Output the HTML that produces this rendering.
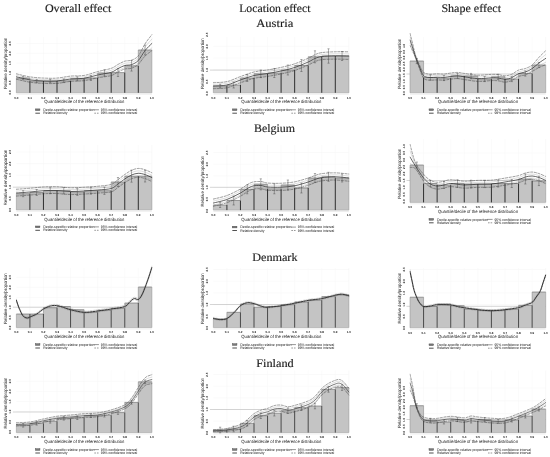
<!DOCTYPE html>
<html><head><meta charset="utf-8"><title>Relative distribution</title>
<style>html,body{margin:0;padding:0;background:#fff}svg{display:block}text{font-family:"Liberation Sans",sans-serif;fill:#141414;text-rendering:geometricPrecision;opacity:.999}.h{font-family:"Liberation Serif",serif;fill:#1c1c1c;stroke:#1c1c1c;stroke-width:.15px}</style></head><body>
<svg width="550" height="457" viewBox="0 0 550 457">
<rect width="550" height="457" fill="#fff"/>
<g opacity="0.999">
<text class="h" x="44.9" y="11.8" font-size="11.5" textLength="66.4" lengthAdjust="spacingAndGlyphs">Overall effect</text>
<text class="h" x="239.2" y="11.8" font-size="11.5" textLength="71.3" lengthAdjust="spacingAndGlyphs">Location effect</text>
<text class="h" x="441.4" y="11.8" font-size="11.5" textLength="59.6" lengthAdjust="spacingAndGlyphs">Shape effect</text>
<text class="h" x="256.3" y="26.9" font-size="11.5" textLength="36.9" lengthAdjust="spacingAndGlyphs">Austria</text>
<text class="h" x="254.1" y="131.6" font-size="11.5" textLength="40.9" lengthAdjust="spacingAndGlyphs">Belgium</text>
<text class="h" x="252.2" y="261.2" font-size="11.5" textLength="45.3" lengthAdjust="spacingAndGlyphs">Denmark</text>
<text class="h" x="256.3" y="366.5" font-size="11.5" textLength="37.4" lengthAdjust="spacingAndGlyphs">Finland</text>
<g>
<line x1="151.85" y1="37.00" x2="151.85" y2="92.80" stroke="#f2f2f2" stroke-width="0.5"/>
<line x1="16.35" y1="82.70" x2="151.85" y2="82.70" stroke="#f5f5f5" stroke-width="0.5"/>
<line x1="16.35" y1="72.90" x2="151.85" y2="72.90" stroke="#f5f5f5" stroke-width="0.5"/>
<line x1="16.35" y1="63.10" x2="151.85" y2="63.10" stroke="#f5f5f5" stroke-width="0.5"/>
<line x1="16.35" y1="53.30" x2="151.85" y2="53.30" stroke="#f5f5f5" stroke-width="0.5"/>
<line x1="16.35" y1="43.50" x2="151.85" y2="43.50" stroke="#f5f5f5" stroke-width="0.5"/>
<line x1="29.90" y1="37.00" x2="29.90" y2="92.80" stroke="#f7f7f7" stroke-width="0.5"/>
<line x1="43.45" y1="37.00" x2="43.45" y2="92.80" stroke="#f7f7f7" stroke-width="0.5"/>
<line x1="57.00" y1="37.00" x2="57.00" y2="92.80" stroke="#f7f7f7" stroke-width="0.5"/>
<line x1="70.55" y1="37.00" x2="70.55" y2="92.80" stroke="#f7f7f7" stroke-width="0.5"/>
<line x1="84.10" y1="37.00" x2="84.10" y2="92.80" stroke="#f7f7f7" stroke-width="0.5"/>
<line x1="97.65" y1="37.00" x2="97.65" y2="92.80" stroke="#f7f7f7" stroke-width="0.5"/>
<line x1="111.20" y1="37.00" x2="111.20" y2="92.80" stroke="#f7f7f7" stroke-width="0.5"/>
<line x1="124.75" y1="37.00" x2="124.75" y2="92.80" stroke="#f7f7f7" stroke-width="0.5"/>
<line x1="138.30" y1="37.00" x2="138.30" y2="92.80" stroke="#f7f7f7" stroke-width="0.5"/>
<rect x="16.35" y="78.00" width="13.55" height="14.80" fill="#c4c4c4"/>
<rect x="29.90" y="81.00" width="13.55" height="11.80" fill="#c4c4c4"/>
<rect x="43.45" y="81.00" width="13.55" height="11.80" fill="#c4c4c4"/>
<rect x="57.00" y="80.80" width="13.55" height="12.00" fill="#c4c4c4"/>
<rect x="70.55" y="78.80" width="13.55" height="14.00" fill="#c4c4c4"/>
<rect x="84.10" y="78.00" width="13.55" height="14.80" fill="#c4c4c4"/>
<rect x="97.65" y="73.00" width="13.55" height="19.80" fill="#c4c4c4"/>
<rect x="111.20" y="72.60" width="13.55" height="20.20" fill="#c4c4c4"/>
<rect x="124.75" y="65.80" width="13.55" height="27.00" fill="#c4c4c4"/>
<rect x="138.30" y="50.00" width="13.55" height="42.80" fill="#c4c4c4"/>
<path d="M16.35 78.00H29.90M29.90 81.00H43.45M43.45 81.00H57.00M57.00 80.80H70.55M70.55 78.80H84.10M84.10 78.00H97.65M97.65 73.00H111.20M111.20 72.60H124.75M124.75 65.80H138.30M138.30 50.00H151.85" stroke="#666" stroke-width="0.6" fill="none"/>
<path d="M16.35 78.00V92.80M151.85 50.00V92.80" stroke="#8e8e8e" stroke-width="0.5" fill="none"/>
<line x1="16.35" y1="92.80" x2="151.85" y2="92.80" stroke="#9a9a9a" stroke-width="0.5"/>
<line x1="16.35" y1="94.20" x2="151.85" y2="94.20" stroke="#e2e2e2" stroke-width="0.6"/>
<path d="M29.90 81.00V92.80M43.45 81.00V92.80M57.00 81.00V92.80M70.55 80.80V92.80M84.10 78.80V92.80M97.65 78.00V92.80M111.20 73.00V92.80M124.75 72.60V92.80M138.30 65.80V92.80" stroke="#2e2e2e" stroke-width="1.00" fill="none"/>
<path d="M29.90 78.00V81.00M70.55 78.80V80.80M84.10 78.00V78.80M97.65 73.00V78.00M111.20 72.60V73.00M124.75 65.80V72.60M138.30 50.00V65.80" stroke="#858585" stroke-width="0.55" fill="none"/>
<clipPath id="cp0_92"><rect x="15.85" y="33.00" width="137.00" height="59.80"/></clipPath>
<g clip-path="url(#cp0_92)" fill="none" stroke-linecap="round">
<path d="M16.35 73.83 C18.61 74.33 25.38 76.14 29.90 76.85 C34.42 77.56 38.93 77.87 43.45 78.07 C47.97 78.28 52.48 78.42 57.00 78.10 C61.52 77.77 66.03 76.56 70.55 76.12 C75.07 75.68 79.58 76.19 84.10 75.44 C88.62 74.69 93.13 72.77 97.65 71.59 C102.17 70.41 107.81 69.53 111.20 68.34 C114.59 67.15 115.72 65.66 117.97 64.47 C120.23 63.29 122.49 61.93 124.75 61.21 C127.01 60.49 129.27 61.03 131.53 60.14 C133.78 59.26 136.04 58.61 138.30 55.88 C140.56 53.15 142.82 47.32 145.07 43.79 C147.33 40.26 150.72 36.22 151.85 34.70" stroke="#3d3d3d" stroke-width="0.5" stroke-dasharray="2.2 1.5"/>
<path d="M16.35 79.23 C18.61 79.73 25.38 81.52 29.90 82.21 C34.42 82.91 38.93 83.20 43.45 83.39 C47.97 83.59 52.48 83.72 57.00 83.38 C61.52 83.04 66.03 81.81 70.55 81.36 C75.07 80.90 79.58 81.23 84.10 80.64 C88.62 80.05 93.13 78.64 97.65 77.79 C102.17 76.94 107.81 76.51 111.20 75.54 C114.59 74.57 115.72 73.06 117.97 71.97 C120.23 70.89 122.49 69.63 124.75 69.01 C127.01 68.39 129.27 69.03 131.53 68.24 C133.78 67.46 136.04 66.32 138.30 64.28 C140.56 62.24 142.82 58.25 145.07 55.99 C147.33 53.73 150.72 51.58 151.85 50.70" stroke="#3d3d3d" stroke-width="0.5" stroke-dasharray="2.2 1.5"/>
<path d="M16.35 75.31 C18.61 75.82 25.38 77.62 29.90 78.33 C34.42 79.03 38.93 79.33 43.45 79.54 C47.97 79.74 52.48 79.88 57.00 79.55 C61.52 79.22 66.03 78.01 70.55 77.56 C75.07 77.11 79.58 77.58 84.10 76.87 C88.62 76.16 93.13 74.39 97.65 73.30 C102.17 72.20 107.81 71.45 111.20 70.32 C114.59 69.19 115.72 67.70 117.97 66.54 C120.23 65.38 122.49 64.05 124.75 63.35 C127.01 62.66 129.27 63.23 131.53 62.37 C133.78 61.51 136.04 60.73 138.30 58.19 C140.56 55.65 142.82 50.33 145.07 47.15 C147.33 43.96 150.72 40.44 151.85 39.10" stroke="#8a8a8a" stroke-width="0.28"/>
<path d="M16.35 78.28 C18.61 78.78 25.38 80.58 29.90 81.27 C34.42 81.97 38.93 82.27 43.45 82.46 C47.97 82.66 52.48 82.79 57.00 82.45 C61.52 82.11 66.03 80.89 70.55 80.44 C75.07 79.99 79.58 80.35 84.10 79.73 C88.62 79.11 93.13 77.61 97.65 76.70 C102.17 75.80 107.81 75.29 111.20 74.28 C114.59 73.27 115.72 71.77 117.97 70.66 C120.23 69.56 122.49 68.28 124.75 67.64 C127.01 67.01 129.27 67.63 131.53 66.83 C133.78 66.02 136.04 64.97 138.30 62.81 C140.56 60.65 142.82 56.34 145.07 53.85 C147.33 51.37 150.72 48.89 151.85 47.90" stroke="#8a8a8a" stroke-width="0.28"/>
<path d="M16.35 76.80 C18.61 77.30 25.38 79.10 29.90 79.80 C34.42 80.50 38.93 80.80 43.45 81.00 C47.97 81.20 52.48 81.33 57.00 81.00 C61.52 80.67 66.03 79.45 70.55 79.00 C75.07 78.55 79.58 78.97 84.10 78.30 C88.62 77.63 93.13 76.00 97.65 75.00 C102.17 74.00 107.81 73.37 111.20 72.30 C114.59 71.23 115.72 69.73 117.97 68.60 C120.23 67.47 122.49 66.17 124.75 65.50 C127.01 64.83 129.27 65.43 131.53 64.60 C133.78 63.77 136.04 62.85 138.30 60.50 C140.56 58.15 142.82 53.33 145.07 50.50 C147.33 47.67 150.72 44.67 151.85 43.50" stroke="#2a2a2a" stroke-width="0.72"/>
</g>
<path d="M23.12 76.40V79.60M22.02 76.40h2.2M22.02 79.60h2.2M36.68 79.40V82.60M35.58 79.40h2.2M35.58 82.60h2.2M50.23 79.40V82.60M49.12 79.40h2.2M49.12 82.60h2.2M63.78 79.00V82.60M62.68 79.00h2.2M62.68 82.60h2.2M77.33 76.80V80.80M76.23 76.80h2.2M76.23 80.80h2.2M90.88 75.50V80.50M89.78 75.50h2.2M89.78 80.50h2.2M104.43 69.80V76.20M103.33 69.80h2.2M103.33 76.20h2.2M117.97 68.70V76.50M116.88 68.70h2.2M116.88 76.50h2.2M131.53 60.50V71.10M130.43 60.50h2.2M130.43 71.10h2.2M145.07 45.00V55.00M143.97 45.00h2.2M143.97 55.00h2.2" stroke="#3a3a3a" stroke-width="0.4" fill="none"/>
<text transform="translate(6.85 63.40) rotate(-90)" text-anchor="middle" font-size="4.5" textLength="51.3" lengthAdjust="spacingAndGlyphs">Relative density/proportion</text>
<text transform="translate(11.45 92.50) rotate(-90)" text-anchor="middle" font-size="3.0" font-weight="bold" fill="#333">0.0</text>
<text transform="translate(11.45 82.70) rotate(-90)" text-anchor="middle" font-size="3.0" font-weight="bold" fill="#333">0.5</text>
<text transform="translate(11.45 72.90) rotate(-90)" text-anchor="middle" font-size="3.0" font-weight="bold" fill="#333">1.0</text>
<text transform="translate(11.45 63.10) rotate(-90)" text-anchor="middle" font-size="3.0" font-weight="bold" fill="#333">1.5</text>
<text transform="translate(11.45 53.30) rotate(-90)" text-anchor="middle" font-size="3.0" font-weight="bold" fill="#333">2.0</text>
<text transform="translate(11.45 43.50) rotate(-90)" text-anchor="middle" font-size="3.0" font-weight="bold" fill="#333">2.5</text>
<text x="16.35" y="98.50" text-anchor="middle" font-size="3.0" font-weight="bold" fill="#333">0.0</text>
<text x="29.90" y="98.50" text-anchor="middle" font-size="3.0" font-weight="bold" fill="#333">0.1</text>
<text x="43.45" y="98.50" text-anchor="middle" font-size="3.0" font-weight="bold" fill="#333">0.2</text>
<text x="57.00" y="98.50" text-anchor="middle" font-size="3.0" font-weight="bold" fill="#333">0.3</text>
<text x="70.55" y="98.50" text-anchor="middle" font-size="3.0" font-weight="bold" fill="#333">0.4</text>
<text x="84.10" y="98.50" text-anchor="middle" font-size="3.0" font-weight="bold" fill="#333">0.5</text>
<text x="97.65" y="98.50" text-anchor="middle" font-size="3.0" font-weight="bold" fill="#333">0.6</text>
<text x="111.20" y="98.50" text-anchor="middle" font-size="3.0" font-weight="bold" fill="#333">0.7</text>
<text x="124.75" y="98.50" text-anchor="middle" font-size="3.0" font-weight="bold" fill="#333">0.8</text>
<text x="138.30" y="98.50" text-anchor="middle" font-size="3.0" font-weight="bold" fill="#333">0.9</text>
<text x="151.85" y="98.50" text-anchor="middle" font-size="3.0" font-weight="bold" fill="#333">1.0</text>
<text x="84.35" y="103.40" text-anchor="middle" font-size="4.5" textLength="80" lengthAdjust="spacingAndGlyphs">Quantile/decile of the reference distribution</text>
<rect x="35.35" y="108.90" width="4.6" height="1.7" fill="#7a7a7a" stroke="#444" stroke-width="0.4"/>
<text x="43.35" y="110.90" font-size="3.6" textLength="51" lengthAdjust="spacingAndGlyphs">Decile-specific relative proportion</text>
<line x1="93.55" y1="109.80" x2="98.95" y2="109.80" stroke="#2e2e2e" stroke-width="0.5"/>
<text x="100.75" y="110.90" font-size="3.6" textLength="36.5" lengthAdjust="spacingAndGlyphs">95% confidence interval</text>
<line x1="35.35" y1="113.20" x2="39.95" y2="113.20" stroke="#222" stroke-width="0.8"/>
<text x="43.35" y="114.30" font-size="3.6" textLength="24" lengthAdjust="spacingAndGlyphs">Relative density</text>
<line x1="94.35" y1="113.20" x2="98.95" y2="113.20" stroke="#2e2e2e" stroke-width="0.5" stroke-dasharray="1.6 1.0"/>
<text x="100.75" y="114.30" font-size="3.6" textLength="36.5" lengthAdjust="spacingAndGlyphs">99% confidence interval</text>
</g>
<g>
<line x1="348.85" y1="37.00" x2="348.85" y2="92.80" stroke="#f2f2f2" stroke-width="0.5"/>
<line x1="213.35" y1="81.55" x2="348.85" y2="81.55" stroke="#f5f5f5" stroke-width="0.5"/>
<line x1="213.35" y1="69.80" x2="348.85" y2="69.80" stroke="#f5f5f5" stroke-width="0.5"/>
<line x1="213.35" y1="58.05" x2="348.85" y2="58.05" stroke="#f5f5f5" stroke-width="0.5"/>
<line x1="213.35" y1="46.30" x2="348.85" y2="46.30" stroke="#f5f5f5" stroke-width="0.5"/>
<line x1="226.90" y1="37.00" x2="226.90" y2="92.80" stroke="#f7f7f7" stroke-width="0.5"/>
<line x1="240.45" y1="37.00" x2="240.45" y2="92.80" stroke="#f7f7f7" stroke-width="0.5"/>
<line x1="254.00" y1="37.00" x2="254.00" y2="92.80" stroke="#f7f7f7" stroke-width="0.5"/>
<line x1="267.55" y1="37.00" x2="267.55" y2="92.80" stroke="#f7f7f7" stroke-width="0.5"/>
<line x1="281.10" y1="37.00" x2="281.10" y2="92.80" stroke="#f7f7f7" stroke-width="0.5"/>
<line x1="294.65" y1="37.00" x2="294.65" y2="92.80" stroke="#f7f7f7" stroke-width="0.5"/>
<line x1="308.20" y1="37.00" x2="308.20" y2="92.80" stroke="#f7f7f7" stroke-width="0.5"/>
<line x1="321.75" y1="37.00" x2="321.75" y2="92.80" stroke="#f7f7f7" stroke-width="0.5"/>
<line x1="335.30" y1="37.00" x2="335.30" y2="92.80" stroke="#f7f7f7" stroke-width="0.5"/>
<line x1="209.85" y1="70.10" x2="348.85" y2="70.10" stroke="#b9b9b9" stroke-width="0.6"/>
<rect x="213.35" y="86.00" width="13.55" height="6.80" fill="#c4c4c4"/>
<rect x="226.90" y="85.00" width="13.55" height="7.80" fill="#c4c4c4"/>
<rect x="240.45" y="78.00" width="13.55" height="14.80" fill="#c4c4c4"/>
<rect x="254.00" y="73.80" width="13.55" height="19.00" fill="#c4c4c4"/>
<rect x="267.55" y="73.00" width="13.55" height="19.80" fill="#c4c4c4"/>
<rect x="281.10" y="70.00" width="13.55" height="22.80" fill="#c4c4c4"/>
<rect x="294.65" y="65.50" width="13.55" height="27.30" fill="#c4c4c4"/>
<rect x="308.20" y="56.80" width="13.55" height="36.00" fill="#c4c4c4"/>
<rect x="321.75" y="56.00" width="13.55" height="36.80" fill="#c4c4c4"/>
<rect x="335.30" y="56.00" width="13.55" height="36.80" fill="#c4c4c4"/>
<path d="M213.35 86.00H226.90M226.90 85.00H240.45M240.45 78.00H254.00M254.00 73.80H267.55M267.55 73.00H281.10M281.10 70.00H294.65M294.65 65.50H308.20M308.20 56.80H321.75M321.75 56.00H335.30M335.30 56.00H348.85" stroke="#666" stroke-width="0.6" fill="none"/>
<path d="M213.35 86.00V92.80M348.85 56.00V92.80" stroke="#8e8e8e" stroke-width="0.5" fill="none"/>
<line x1="213.35" y1="92.80" x2="348.85" y2="92.80" stroke="#9a9a9a" stroke-width="0.5"/>
<line x1="213.35" y1="94.20" x2="348.85" y2="94.20" stroke="#e2e2e2" stroke-width="0.6"/>
<path d="M226.90 86.00V92.80M240.45 85.00V92.80M254.00 78.00V92.80M267.55 73.80V92.80M281.10 73.00V92.80M294.65 70.00V92.80M308.20 65.50V92.80M321.75 56.80V92.80M335.30 56.00V92.80" stroke="#2e2e2e" stroke-width="1.00" fill="none"/>
<path d="M226.90 85.00V86.00M240.45 78.00V85.00M254.00 73.80V78.00M267.55 73.00V73.80M281.10 70.00V73.00M294.65 65.50V70.00M308.20 56.80V65.50M321.75 56.00V56.80" stroke="#858585" stroke-width="0.55" fill="none"/>
<clipPath id="cp1_92"><rect x="212.85" y="33.00" width="137.00" height="59.80"/></clipPath>
<g clip-path="url(#cp1_92)" fill="none" stroke-linecap="round">
<path d="M213.35 82.70 C215.61 82.52 222.38 82.66 226.90 81.64 C231.42 80.62 235.93 78.18 240.45 76.57 C244.97 74.97 249.48 73.12 254.00 72.01 C258.52 70.91 263.03 70.72 267.55 69.95 C272.07 69.18 276.58 68.41 281.10 67.39 C285.62 66.36 290.13 65.34 294.65 63.82 C299.17 62.30 304.81 59.78 308.20 58.26 C311.59 56.74 312.72 55.63 314.98 54.69 C317.23 53.75 318.36 53.10 321.75 52.61 C325.14 52.13 330.78 51.90 335.30 51.77 C339.82 51.63 346.59 51.81 348.85 51.82" stroke="#3d3d3d" stroke-width="0.5" stroke-dasharray="2.2 1.5"/>
<path d="M213.35 88.70 C215.61 88.54 222.38 88.73 226.90 87.75 C231.42 86.77 235.93 84.37 240.45 82.80 C244.97 81.24 249.48 79.42 254.00 78.35 C258.52 77.29 263.03 77.14 267.55 76.41 C272.07 75.67 276.58 74.94 281.10 73.96 C285.62 72.97 290.13 71.99 294.65 70.51 C299.17 69.03 304.81 66.54 308.20 65.06 C311.59 63.58 312.72 62.52 314.98 61.62 C317.23 60.72 318.36 60.10 321.75 59.68 C325.14 59.26 330.78 59.14 335.30 59.10 C339.82 59.06 346.59 59.37 348.85 59.42" stroke="#3d3d3d" stroke-width="0.5" stroke-dasharray="2.2 1.5"/>
<path d="M213.35 84.35 C215.61 84.18 222.38 84.33 226.90 83.32 C231.42 82.31 235.93 79.88 240.45 78.29 C244.97 76.69 249.48 74.85 254.00 73.76 C258.52 72.66 263.03 72.48 267.55 71.72 C272.07 70.96 276.58 70.20 281.10 69.19 C285.62 68.18 290.13 67.17 294.65 65.66 C299.17 64.15 304.81 61.64 308.20 60.13 C311.59 58.62 312.72 57.52 314.98 56.59 C317.23 55.66 318.36 55.02 321.75 54.56 C325.14 54.09 330.78 53.89 335.30 53.78 C339.82 53.68 346.59 53.89 348.85 53.91" stroke="#8a8a8a" stroke-width="0.28"/>
<path d="M213.35 87.65 C215.61 87.49 222.38 87.67 226.90 86.68 C231.42 85.69 235.93 83.29 240.45 81.71 C244.97 80.14 249.48 78.32 254.00 77.24 C258.52 76.17 263.03 76.02 267.55 75.28 C272.07 74.54 276.58 73.80 281.10 72.81 C285.62 71.82 290.13 70.83 294.65 69.34 C299.17 67.85 304.81 65.36 308.20 63.87 C311.59 62.38 312.72 61.31 314.98 60.41 C317.23 59.50 318.36 58.88 321.75 58.44 C325.14 58.01 330.78 57.88 335.30 57.82 C339.82 57.76 346.59 58.04 348.85 58.09" stroke="#8a8a8a" stroke-width="0.28"/>
<path d="M213.35 86.00 C215.61 85.83 222.38 86.00 226.90 85.00 C231.42 84.00 235.93 81.58 240.45 80.00 C244.97 78.42 249.48 76.58 254.00 75.50 C258.52 74.42 263.03 74.25 267.55 73.50 C272.07 72.75 276.58 72.00 281.10 71.00 C285.62 70.00 290.13 69.00 294.65 67.50 C299.17 66.00 304.81 63.50 308.20 62.00 C311.59 60.50 312.72 59.42 314.98 58.50 C317.23 57.58 318.36 56.95 321.75 56.50 C325.14 56.05 330.78 55.88 335.30 55.80 C339.82 55.72 346.59 55.97 348.85 56.00" stroke="#2a2a2a" stroke-width="0.72"/>
</g>
<path d="M220.12 84.20V87.80M219.03 84.20h2.2M219.03 87.80h2.2M233.68 82.00V88.00M232.58 82.00h2.2M232.58 88.00h2.2M247.22 74.50V81.50M246.12 74.50h2.2M246.12 81.50h2.2M260.77 70.00V77.60M259.67 70.00h2.2M259.67 77.60h2.2M274.32 68.50V77.50M273.22 68.50h2.2M273.22 77.50h2.2M287.88 65.00V75.00M286.77 65.00h2.2M286.77 75.00h2.2M301.43 59.50V71.50M300.32 59.50h2.2M300.32 71.50h2.2M314.98 50.80V62.80M313.88 50.80h2.2M313.88 62.80h2.2M328.52 48.80V63.20M327.42 48.80h2.2M327.42 63.20h2.2M342.07 51.50V60.50M340.97 51.50h2.2M340.97 60.50h2.2" stroke="#3a3a3a" stroke-width="0.4" fill="none"/>
<text transform="translate(203.85 63.70) rotate(-90)" text-anchor="middle" font-size="4.5" textLength="50.6" lengthAdjust="spacingAndGlyphs">Relative density/proportion</text>
<text transform="translate(208.45 93.30) rotate(-90)" text-anchor="middle" font-size="3.0" font-weight="bold" fill="#333">0.0</text>
<text transform="translate(208.45 81.55) rotate(-90)" text-anchor="middle" font-size="3.0" font-weight="bold" fill="#333">0.5</text>
<text transform="translate(208.45 69.80) rotate(-90)" text-anchor="middle" font-size="3.0" font-weight="bold" fill="#333">1.0</text>
<text transform="translate(208.45 58.05) rotate(-90)" text-anchor="middle" font-size="3.0" font-weight="bold" fill="#333">1.5</text>
<text transform="translate(208.45 46.30) rotate(-90)" text-anchor="middle" font-size="3.0" font-weight="bold" fill="#333">2.0</text>
<text transform="translate(208.45 34.55) rotate(-90)" text-anchor="middle" font-size="3.0" font-weight="bold" fill="#333">2.5</text>
<text x="213.35" y="98.50" text-anchor="middle" font-size="3.0" font-weight="bold" fill="#333">0.0</text>
<text x="226.90" y="98.50" text-anchor="middle" font-size="3.0" font-weight="bold" fill="#333">0.1</text>
<text x="240.45" y="98.50" text-anchor="middle" font-size="3.0" font-weight="bold" fill="#333">0.2</text>
<text x="254.00" y="98.50" text-anchor="middle" font-size="3.0" font-weight="bold" fill="#333">0.3</text>
<text x="267.55" y="98.50" text-anchor="middle" font-size="3.0" font-weight="bold" fill="#333">0.4</text>
<text x="281.10" y="98.50" text-anchor="middle" font-size="3.0" font-weight="bold" fill="#333">0.5</text>
<text x="294.65" y="98.50" text-anchor="middle" font-size="3.0" font-weight="bold" fill="#333">0.6</text>
<text x="308.20" y="98.50" text-anchor="middle" font-size="3.0" font-weight="bold" fill="#333">0.7</text>
<text x="321.75" y="98.50" text-anchor="middle" font-size="3.0" font-weight="bold" fill="#333">0.8</text>
<text x="335.30" y="98.50" text-anchor="middle" font-size="3.0" font-weight="bold" fill="#333">0.9</text>
<text x="348.85" y="98.50" text-anchor="middle" font-size="3.0" font-weight="bold" fill="#333">1.0</text>
<text x="281.35" y="103.40" text-anchor="middle" font-size="4.5" textLength="80" lengthAdjust="spacingAndGlyphs">Quantile/decile of the reference distribution</text>
<rect x="232.35" y="108.90" width="4.6" height="1.7" fill="#7a7a7a" stroke="#444" stroke-width="0.4"/>
<text x="240.35" y="110.90" font-size="3.6" textLength="51" lengthAdjust="spacingAndGlyphs">Decile-specific relative proportion</text>
<line x1="290.55" y1="109.80" x2="295.95" y2="109.80" stroke="#2e2e2e" stroke-width="0.5"/>
<text x="297.75" y="110.90" font-size="3.6" textLength="36.5" lengthAdjust="spacingAndGlyphs">95% confidence interval</text>
<line x1="232.35" y1="113.20" x2="236.95" y2="113.20" stroke="#222" stroke-width="0.8"/>
<text x="240.35" y="114.30" font-size="3.6" textLength="24" lengthAdjust="spacingAndGlyphs">Relative density</text>
<line x1="291.35" y1="113.20" x2="295.95" y2="113.20" stroke="#2e2e2e" stroke-width="0.5" stroke-dasharray="1.6 1.0"/>
<text x="297.75" y="114.30" font-size="3.6" textLength="36.5" lengthAdjust="spacingAndGlyphs">99% confidence interval</text>
</g>
<g>
<line x1="545.70" y1="37.00" x2="545.70" y2="92.80" stroke="#f2f2f2" stroke-width="0.5"/>
<line x1="410.00" y1="87.20" x2="545.70" y2="87.20" stroke="#f5f5f5" stroke-width="0.5"/>
<line x1="410.00" y1="75.40" x2="545.70" y2="75.40" stroke="#f5f5f5" stroke-width="0.5"/>
<line x1="410.00" y1="63.60" x2="545.70" y2="63.60" stroke="#f5f5f5" stroke-width="0.5"/>
<line x1="410.00" y1="51.80" x2="545.70" y2="51.80" stroke="#f5f5f5" stroke-width="0.5"/>
<line x1="423.57" y1="37.00" x2="423.57" y2="92.80" stroke="#f7f7f7" stroke-width="0.5"/>
<line x1="437.14" y1="37.00" x2="437.14" y2="92.80" stroke="#f7f7f7" stroke-width="0.5"/>
<line x1="450.71" y1="37.00" x2="450.71" y2="92.80" stroke="#f7f7f7" stroke-width="0.5"/>
<line x1="464.28" y1="37.00" x2="464.28" y2="92.80" stroke="#f7f7f7" stroke-width="0.5"/>
<line x1="477.85" y1="37.00" x2="477.85" y2="92.80" stroke="#f7f7f7" stroke-width="0.5"/>
<line x1="491.42" y1="37.00" x2="491.42" y2="92.80" stroke="#f7f7f7" stroke-width="0.5"/>
<line x1="504.99" y1="37.00" x2="504.99" y2="92.80" stroke="#f7f7f7" stroke-width="0.5"/>
<line x1="518.56" y1="37.00" x2="518.56" y2="92.80" stroke="#f7f7f7" stroke-width="0.5"/>
<line x1="532.13" y1="37.00" x2="532.13" y2="92.80" stroke="#f7f7f7" stroke-width="0.5"/>
<line x1="406.50" y1="74.00" x2="545.70" y2="74.00" stroke="#b9b9b9" stroke-width="0.6"/>
<rect x="410.00" y="61.00" width="13.57" height="31.80" fill="#c4c4c4"/>
<rect x="423.57" y="77.50" width="13.57" height="15.30" fill="#c4c4c4"/>
<rect x="437.14" y="78.00" width="13.57" height="14.80" fill="#c4c4c4"/>
<rect x="450.71" y="76.00" width="13.57" height="16.80" fill="#c4c4c4"/>
<rect x="464.28" y="76.00" width="13.57" height="16.80" fill="#c4c4c4"/>
<rect x="477.85" y="79.00" width="13.57" height="13.80" fill="#c4c4c4"/>
<rect x="491.42" y="76.80" width="13.57" height="16.00" fill="#c4c4c4"/>
<rect x="504.99" y="79.00" width="13.57" height="13.80" fill="#c4c4c4"/>
<rect x="518.56" y="73.50" width="13.57" height="19.30" fill="#c4c4c4"/>
<rect x="532.13" y="65.00" width="13.57" height="27.80" fill="#c4c4c4"/>
<path d="M410.00 61.00H423.57M423.57 77.50H437.14M437.14 78.00H450.71M450.71 76.00H464.28M464.28 76.00H477.85M477.85 79.00H491.42M491.42 76.80H504.99M504.99 79.00H518.56M518.56 73.50H532.13M532.13 65.00H545.70" stroke="#666" stroke-width="0.6" fill="none"/>
<path d="M410.00 61.00V92.80M545.70 65.00V92.80" stroke="#8e8e8e" stroke-width="0.5" fill="none"/>
<line x1="410.00" y1="92.80" x2="545.70" y2="92.80" stroke="#9a9a9a" stroke-width="0.5"/>
<line x1="410.00" y1="94.20" x2="545.70" y2="94.20" stroke="#e2e2e2" stroke-width="0.6"/>
<path d="M423.57 77.50V92.80M437.14 78.00V92.80M450.71 78.00V92.80M464.28 76.00V92.80M477.85 79.00V92.80M491.42 79.00V92.80M504.99 79.00V92.80M518.56 79.00V92.80M532.13 73.50V92.80" stroke="#2e2e2e" stroke-width="1.00" fill="none"/>
<path d="M423.57 61.00V77.50M437.14 77.50V78.00M450.71 76.00V78.00M477.85 76.00V79.00M491.42 76.80V79.00M504.99 76.80V79.00M518.56 73.50V79.00M532.13 65.00V73.50" stroke="#858585" stroke-width="0.55" fill="none"/>
<clipPath id="cp2_92"><rect x="409.50" y="33.00" width="137.20" height="59.80"/></clipPath>
<g clip-path="url(#cp2_92)" fill="none" stroke-linecap="round">
<path d="M410.00 33.40 C410.45 35.16 411.81 40.34 412.71 43.94 C413.62 47.54 414.30 51.47 415.43 54.98 C416.56 58.50 418.37 62.41 419.50 65.02 C420.63 67.63 421.31 69.26 422.21 70.64 C423.12 72.02 423.57 72.71 424.93 73.30 C426.28 73.89 428.32 74.09 430.36 74.19 C432.39 74.28 434.88 73.89 437.14 73.87 C439.40 73.85 441.66 74.20 443.93 74.06 C446.19 73.92 448.45 73.32 450.71 73.05 C452.97 72.77 455.23 72.37 457.50 72.43 C459.76 72.49 460.89 72.96 464.28 73.42 C467.67 73.88 473.33 75.03 477.85 75.19 C482.37 75.35 488.03 74.47 491.42 74.36 C494.81 74.26 495.94 74.30 498.20 74.55 C500.47 74.79 502.73 75.89 504.99 75.83 C507.25 75.78 509.51 75.18 511.77 74.22 C514.04 73.27 516.30 71.06 518.56 70.11 C520.82 69.15 523.08 69.33 525.35 68.49 C527.61 67.66 529.87 66.93 532.13 65.08 C534.39 63.23 536.65 59.79 538.91 57.39 C541.18 54.99 544.57 51.81 545.70 50.70" stroke="#3d3d3d" stroke-width="0.5" stroke-dasharray="2.2 1.5"/>
<path d="M410.00 45.40 C410.45 46.39 411.81 49.26 412.71 51.32 C413.62 53.38 414.30 54.86 415.43 57.74 C416.56 60.62 418.37 65.60 419.50 68.62 C420.63 71.64 421.31 74.06 422.21 75.84 C423.12 77.62 423.57 78.57 424.93 79.30 C426.28 80.03 428.32 80.11 430.36 80.21 C432.39 80.31 434.88 79.94 437.14 79.92 C439.40 79.91 441.66 80.26 443.93 80.13 C446.19 80.00 448.45 79.41 450.71 79.15 C452.97 78.88 455.23 78.49 457.50 78.56 C459.76 78.63 460.89 79.10 464.28 79.57 C467.67 80.04 473.33 81.22 477.85 81.39 C482.37 81.56 488.03 80.71 491.42 80.61 C494.81 80.52 495.94 80.57 498.20 80.82 C500.47 81.08 502.73 82.18 504.99 82.13 C507.25 82.09 509.51 81.49 511.77 80.55 C514.04 79.60 516.30 77.40 518.56 76.46 C520.82 75.51 523.08 75.70 525.35 74.87 C527.61 74.04 529.87 72.69 532.13 71.48 C534.39 70.27 536.65 68.72 538.91 67.59 C541.18 66.46 544.57 65.18 545.70 64.70" stroke="#3d3d3d" stroke-width="0.5" stroke-dasharray="2.2 1.5"/>
<path d="M410.00 36.70 C410.45 38.25 411.81 42.80 412.71 45.97 C413.62 49.14 414.30 52.40 415.43 55.74 C416.56 59.08 418.37 63.29 419.50 66.01 C420.63 68.73 421.31 70.58 422.21 72.07 C423.12 73.56 423.57 74.32 424.93 74.95 C426.28 75.58 428.32 75.75 430.36 75.84 C432.39 75.94 434.88 75.56 437.14 75.54 C439.40 75.52 441.66 75.87 443.93 75.73 C446.19 75.59 448.45 74.99 450.71 74.72 C452.97 74.45 455.23 74.05 457.50 74.12 C459.76 74.18 460.89 74.65 464.28 75.11 C467.67 75.57 473.33 76.73 477.85 76.89 C482.37 77.06 488.03 76.18 491.42 76.08 C494.81 75.98 495.94 76.03 498.20 76.27 C500.47 76.52 502.73 77.62 504.99 77.57 C507.25 77.52 509.51 76.91 511.77 75.96 C514.04 75.01 516.30 72.81 518.56 71.85 C520.82 70.90 523.08 71.08 525.35 70.25 C527.61 69.41 529.87 68.52 532.13 66.84 C534.39 65.16 536.65 62.24 538.91 60.20 C541.18 58.15 544.57 55.49 545.70 54.55" stroke="#8a8a8a" stroke-width="0.28"/>
<path d="M410.00 43.30 C410.45 44.42 411.81 47.70 412.71 50.03 C413.62 52.36 414.30 54.26 415.43 57.26 C416.56 60.25 418.37 65.04 419.50 67.99 C420.63 70.94 421.31 73.22 422.21 74.93 C423.12 76.64 423.57 77.55 424.93 78.25 C426.28 78.96 428.32 79.05 430.36 79.16 C432.39 79.26 434.88 78.88 437.14 78.86 C439.40 78.85 441.66 79.20 443.93 79.07 C446.19 78.94 448.45 78.34 450.71 78.08 C452.97 77.81 455.23 77.42 457.50 77.48 C459.76 77.55 460.89 78.02 464.28 78.49 C467.67 78.96 473.33 80.13 477.85 80.30 C482.37 80.48 488.03 79.62 491.42 79.52 C494.81 79.42 495.94 79.47 498.20 79.73 C500.47 79.98 502.73 81.08 504.99 81.03 C507.25 80.98 509.51 80.39 511.77 79.44 C514.04 78.49 516.30 76.29 518.56 75.35 C520.82 74.40 523.08 74.58 525.35 73.75 C527.61 72.92 529.87 71.68 532.13 70.36 C534.39 69.04 536.65 67.16 538.91 65.80 C541.18 64.45 544.57 62.84 545.70 62.25" stroke="#8a8a8a" stroke-width="0.28"/>
<path d="M410.00 40.00 C410.45 41.33 411.81 45.25 412.71 48.00 C413.62 50.75 414.30 53.33 415.43 56.50 C416.56 59.67 418.37 64.17 419.50 67.00 C420.63 69.83 421.31 71.90 422.21 73.50 C423.12 75.10 423.57 75.93 424.93 76.60 C426.28 77.27 428.32 77.40 430.36 77.50 C432.39 77.60 434.88 77.22 437.14 77.20 C439.40 77.18 441.66 77.53 443.93 77.40 C446.19 77.27 448.45 76.67 450.71 76.40 C452.97 76.13 455.23 75.73 457.50 75.80 C459.76 75.87 460.89 76.33 464.28 76.80 C467.67 77.27 473.33 78.43 477.85 78.60 C482.37 78.77 488.03 77.90 491.42 77.80 C494.81 77.70 495.94 77.75 498.20 78.00 C500.47 78.25 502.73 79.35 504.99 79.30 C507.25 79.25 509.51 78.65 511.77 77.70 C514.04 76.75 516.30 74.55 518.56 73.60 C520.82 72.65 523.08 72.83 525.35 72.00 C527.61 71.17 529.87 70.10 532.13 68.60 C534.39 67.10 536.65 64.70 538.91 63.00 C541.18 61.30 544.57 59.17 545.70 58.40" stroke="#2a2a2a" stroke-width="0.72"/>
</g>
<path d="M416.79 58.40V63.60M415.69 58.40h2.2M415.69 63.60h2.2M430.36 74.90V80.10M429.25 74.90h2.2M429.25 80.10h2.2M443.93 75.40V80.60M442.82 75.40h2.2M442.82 80.60h2.2M457.50 73.40V78.60M456.39 73.40h2.2M456.39 78.60h2.2M471.06 73.40V78.60M469.96 73.40h2.2M469.96 78.60h2.2M484.63 76.40V81.60M483.53 76.40h2.2M483.53 81.60h2.2M498.20 74.20V79.40M497.10 74.20h2.2M497.10 79.40h2.2M511.77 76.40V81.60M510.67 76.40h2.2M510.67 81.60h2.2M525.35 70.90V76.10M524.25 70.90h2.2M524.25 76.10h2.2M538.91 62.40V67.60M537.81 62.40h2.2M537.81 67.60h2.2" stroke="#3a3a3a" stroke-width="0.4" fill="none"/>
<text transform="translate(400.50 63.80) rotate(-90)" text-anchor="middle" font-size="4.5" textLength="50.0" lengthAdjust="spacingAndGlyphs">Relative density/proportion</text>
<text transform="translate(405.10 93.10) rotate(-90)" text-anchor="middle" font-size="3.0" font-weight="bold" fill="#333">0.0</text>
<text transform="translate(405.10 87.20) rotate(-90)" text-anchor="middle" font-size="3.0" font-weight="bold" fill="#333">0.5</text>
<text transform="translate(405.10 81.30) rotate(-90)" text-anchor="middle" font-size="3.0" font-weight="bold" fill="#333">1.0</text>
<text transform="translate(405.10 75.40) rotate(-90)" text-anchor="middle" font-size="3.0" font-weight="bold" fill="#333">1.5</text>
<text transform="translate(405.10 69.50) rotate(-90)" text-anchor="middle" font-size="3.0" font-weight="bold" fill="#333">2.0</text>
<text transform="translate(405.10 63.60) rotate(-90)" text-anchor="middle" font-size="3.0" font-weight="bold" fill="#333">2.5</text>
<text transform="translate(405.10 57.70) rotate(-90)" text-anchor="middle" font-size="3.0" font-weight="bold" fill="#333">3.0</text>
<text transform="translate(405.10 51.80) rotate(-90)" text-anchor="middle" font-size="3.0" font-weight="bold" fill="#333">3.5</text>
<text transform="translate(405.10 45.90) rotate(-90)" text-anchor="middle" font-size="3.0" font-weight="bold" fill="#333">4.0</text>
<text x="410.00" y="98.50" text-anchor="middle" font-size="3.0" font-weight="bold" fill="#333">0.0</text>
<text x="423.57" y="98.50" text-anchor="middle" font-size="3.0" font-weight="bold" fill="#333">0.1</text>
<text x="437.14" y="98.50" text-anchor="middle" font-size="3.0" font-weight="bold" fill="#333">0.2</text>
<text x="450.71" y="98.50" text-anchor="middle" font-size="3.0" font-weight="bold" fill="#333">0.3</text>
<text x="464.28" y="98.50" text-anchor="middle" font-size="3.0" font-weight="bold" fill="#333">0.4</text>
<text x="477.85" y="98.50" text-anchor="middle" font-size="3.0" font-weight="bold" fill="#333">0.5</text>
<text x="491.42" y="98.50" text-anchor="middle" font-size="3.0" font-weight="bold" fill="#333">0.6</text>
<text x="504.99" y="98.50" text-anchor="middle" font-size="3.0" font-weight="bold" fill="#333">0.7</text>
<text x="518.56" y="98.50" text-anchor="middle" font-size="3.0" font-weight="bold" fill="#333">0.8</text>
<text x="532.13" y="98.50" text-anchor="middle" font-size="3.0" font-weight="bold" fill="#333">0.9</text>
<text x="545.70" y="98.50" text-anchor="middle" font-size="3.0" font-weight="bold" fill="#333">1.0</text>
<text x="478.00" y="103.40" text-anchor="middle" font-size="4.5" textLength="80" lengthAdjust="spacingAndGlyphs">Quantile/decile of the reference distribution</text>
<rect x="429.00" y="108.90" width="4.6" height="1.7" fill="#7a7a7a" stroke="#444" stroke-width="0.4"/>
<text x="437.00" y="110.90" font-size="3.6" textLength="51" lengthAdjust="spacingAndGlyphs">Decile-specific relative proportion</text>
<line x1="487.20" y1="109.80" x2="492.60" y2="109.80" stroke="#2e2e2e" stroke-width="0.5"/>
<text x="494.40" y="110.90" font-size="3.6" textLength="36.5" lengthAdjust="spacingAndGlyphs">95% confidence interval</text>
<line x1="429.00" y1="113.20" x2="433.60" y2="113.20" stroke="#222" stroke-width="0.8"/>
<text x="437.00" y="114.30" font-size="3.6" textLength="24" lengthAdjust="spacingAndGlyphs">Relative density</text>
<line x1="488.00" y1="113.20" x2="492.60" y2="113.20" stroke="#2e2e2e" stroke-width="0.5" stroke-dasharray="1.6 1.0"/>
<text x="494.40" y="114.30" font-size="3.6" textLength="36.5" lengthAdjust="spacingAndGlyphs">99% confidence interval</text>
</g>
<g>
<line x1="151.85" y1="145.00" x2="151.85" y2="209.90" stroke="#f2f2f2" stroke-width="0.5"/>
<line x1="16.35" y1="198.40" x2="151.85" y2="198.40" stroke="#f5f5f5" stroke-width="0.5"/>
<line x1="16.35" y1="186.80" x2="151.85" y2="186.80" stroke="#f5f5f5" stroke-width="0.5"/>
<line x1="16.35" y1="175.20" x2="151.85" y2="175.20" stroke="#f5f5f5" stroke-width="0.5"/>
<line x1="16.35" y1="163.60" x2="151.85" y2="163.60" stroke="#f5f5f5" stroke-width="0.5"/>
<line x1="16.35" y1="152.00" x2="151.85" y2="152.00" stroke="#f5f5f5" stroke-width="0.5"/>
<line x1="29.90" y1="145.00" x2="29.90" y2="209.90" stroke="#f7f7f7" stroke-width="0.5"/>
<line x1="43.45" y1="145.00" x2="43.45" y2="209.90" stroke="#f7f7f7" stroke-width="0.5"/>
<line x1="57.00" y1="145.00" x2="57.00" y2="209.90" stroke="#f7f7f7" stroke-width="0.5"/>
<line x1="70.55" y1="145.00" x2="70.55" y2="209.90" stroke="#f7f7f7" stroke-width="0.5"/>
<line x1="84.10" y1="145.00" x2="84.10" y2="209.90" stroke="#f7f7f7" stroke-width="0.5"/>
<line x1="97.65" y1="145.00" x2="97.65" y2="209.90" stroke="#f7f7f7" stroke-width="0.5"/>
<line x1="111.20" y1="145.00" x2="111.20" y2="209.90" stroke="#f7f7f7" stroke-width="0.5"/>
<line x1="124.75" y1="145.00" x2="124.75" y2="209.90" stroke="#f7f7f7" stroke-width="0.5"/>
<line x1="138.30" y1="145.00" x2="138.30" y2="209.90" stroke="#f7f7f7" stroke-width="0.5"/>
<line x1="12.85" y1="187.20" x2="151.85" y2="187.20" stroke="#b9b9b9" stroke-width="0.6"/>
<rect x="16.35" y="193.70" width="13.55" height="16.20" fill="#c4c4c4"/>
<rect x="29.90" y="192.50" width="13.55" height="17.40" fill="#c4c4c4"/>
<rect x="43.45" y="190.70" width="13.55" height="19.20" fill="#c4c4c4"/>
<rect x="57.00" y="190.70" width="13.55" height="19.20" fill="#c4c4c4"/>
<rect x="70.55" y="192.00" width="13.55" height="17.90" fill="#c4c4c4"/>
<rect x="84.10" y="190.70" width="13.55" height="19.20" fill="#c4c4c4"/>
<rect x="97.65" y="190.70" width="13.55" height="19.20" fill="#c4c4c4"/>
<rect x="111.20" y="182.00" width="13.55" height="27.90" fill="#c4c4c4"/>
<rect x="124.75" y="176.20" width="13.55" height="33.70" fill="#c4c4c4"/>
<rect x="138.30" y="176.20" width="13.55" height="33.70" fill="#c4c4c4"/>
<path d="M16.35 193.70H29.90M29.90 192.50H43.45M43.45 190.70H57.00M57.00 190.70H70.55M70.55 192.00H84.10M84.10 190.70H97.65M97.65 190.70H111.20M111.20 182.00H124.75M124.75 176.20H138.30M138.30 176.20H151.85" stroke="#666" stroke-width="0.6" fill="none"/>
<path d="M16.35 193.70V209.90M151.85 176.20V209.90" stroke="#8e8e8e" stroke-width="0.5" fill="none"/>
<line x1="16.35" y1="209.90" x2="151.85" y2="209.90" stroke="#9a9a9a" stroke-width="0.5"/>
<line x1="16.35" y1="211.30" x2="151.85" y2="211.30" stroke="#e2e2e2" stroke-width="0.6"/>
<path d="M29.90 193.70V209.90M43.45 192.50V209.90M57.00 190.70V209.90M70.55 192.00V209.90M84.10 192.00V209.90M97.65 190.70V209.90M111.20 190.70V209.90M124.75 182.00V209.90M138.30 176.20V209.90" stroke="#2e2e2e" stroke-width="1.00" fill="none"/>
<path d="M29.90 192.50V193.70M43.45 190.70V192.50M70.55 190.70V192.00M84.10 190.70V192.00M111.20 182.00V190.70M124.75 176.20V182.00" stroke="#858585" stroke-width="0.55" fill="none"/>
<clipPath id="cp0_209"><rect x="15.85" y="141.00" width="137.00" height="68.90"/></clipPath>
<g clip-path="url(#cp0_209)" fill="none" stroke-linecap="round">
<path d="M16.35 189.26 C18.61 189.09 25.38 188.64 29.90 188.26 C34.42 187.88 38.93 187.21 43.45 186.96 C47.97 186.71 52.48 186.63 57.00 186.76 C61.52 186.89 66.03 187.68 70.55 187.76 C75.07 187.84 79.58 187.51 84.10 187.26 C88.62 187.01 93.13 186.74 97.65 186.26 C102.17 185.78 107.81 185.49 111.20 184.39 C114.59 183.30 115.72 181.35 117.97 179.71 C120.23 178.07 122.49 176.09 124.75 174.53 C127.01 172.97 129.27 171.35 131.53 170.34 C133.78 169.33 136.04 168.56 138.30 168.46 C140.56 168.36 142.82 169.04 145.07 169.76 C147.33 170.48 150.72 172.26 151.85 172.76" stroke="#3d3d3d" stroke-width="0.5" stroke-dasharray="2.2 1.5"/>
<path d="M16.35 196.06 C18.61 195.89 25.38 195.44 29.90 195.06 C34.42 194.68 38.93 194.01 43.45 193.76 C47.97 193.51 52.48 193.43 57.00 193.56 C61.52 193.69 66.03 194.48 70.55 194.56 C75.07 194.64 79.58 194.31 84.10 194.06 C88.62 193.81 93.13 193.43 97.65 193.06 C102.17 192.69 107.81 192.79 111.20 191.86 C114.59 190.94 115.72 189.04 117.97 187.51 C120.23 185.98 122.49 184.11 124.75 182.66 C127.01 181.21 129.27 179.71 131.53 178.81 C133.78 177.91 136.04 177.30 138.30 177.26 C140.56 177.22 142.82 177.84 145.07 178.56 C147.33 179.28 150.72 181.06 151.85 181.56" stroke="#3d3d3d" stroke-width="0.5" stroke-dasharray="2.2 1.5"/>
<path d="M16.35 191.13 C18.61 190.96 25.38 190.51 29.90 190.13 C34.42 189.75 38.93 189.08 43.45 188.83 C47.97 188.58 52.48 188.50 57.00 188.63 C61.52 188.76 66.03 189.55 70.55 189.63 C75.07 189.71 79.58 189.38 84.10 189.13 C88.62 188.88 93.13 188.58 97.65 188.13 C102.17 187.68 107.81 187.49 111.20 186.45 C114.59 185.40 115.72 183.47 117.97 181.85 C120.23 180.24 122.49 178.29 124.75 176.76 C127.01 175.23 129.27 173.65 131.53 172.67 C133.78 171.69 136.04 170.96 138.30 170.88 C140.56 170.80 142.82 171.46 145.07 172.18 C147.33 172.90 150.72 174.68 151.85 175.18" stroke="#8a8a8a" stroke-width="0.28"/>
<path d="M16.35 194.87 C18.61 194.70 25.38 194.25 29.90 193.87 C34.42 193.49 38.93 192.82 43.45 192.57 C47.97 192.32 52.48 192.24 57.00 192.37 C61.52 192.50 66.03 193.29 70.55 193.37 C75.07 193.45 79.58 193.12 84.10 192.87 C88.62 192.62 93.13 192.26 97.65 191.87 C102.17 191.48 107.81 191.51 111.20 190.55 C114.59 189.60 115.72 187.70 117.97 186.15 C120.23 184.59 122.49 182.71 124.75 181.24 C127.01 179.77 129.27 178.25 131.53 177.33 C133.78 176.41 136.04 175.77 138.30 175.72 C140.56 175.67 142.82 176.30 145.07 177.02 C147.33 177.74 150.72 179.52 151.85 180.02" stroke="#8a8a8a" stroke-width="0.28"/>
<path d="M16.35 193.00 C18.61 192.83 25.38 192.38 29.90 192.00 C34.42 191.62 38.93 190.95 43.45 190.70 C47.97 190.45 52.48 190.37 57.00 190.50 C61.52 190.63 66.03 191.42 70.55 191.50 C75.07 191.58 79.58 191.25 84.10 191.00 C88.62 190.75 93.13 190.42 97.65 190.00 C102.17 189.58 107.81 189.50 111.20 188.50 C114.59 187.50 115.72 185.58 117.97 184.00 C120.23 182.42 122.49 180.50 124.75 179.00 C127.01 177.50 129.27 175.95 131.53 175.00 C133.78 174.05 136.04 173.37 138.30 173.30 C140.56 173.23 142.82 173.88 145.07 174.60 C147.33 175.32 150.72 177.10 151.85 177.60" stroke="#2a2a2a" stroke-width="0.72"/>
</g>
<path d="M23.12 190.70V196.70M22.02 190.70h2.2M22.02 196.70h2.2M36.68 189.50V195.50M35.58 189.50h2.2M35.58 195.50h2.2M50.23 187.70V193.70M49.12 187.70h2.2M49.12 193.70h2.2M63.78 187.50V193.90M62.68 187.50h2.2M62.68 193.90h2.2M77.33 188.60V195.40M76.23 188.60h2.2M76.23 195.40h2.2M90.88 187.30V194.10M89.78 187.30h2.2M89.78 194.10h2.2M104.43 187.00V194.40M103.33 187.00h2.2M103.33 194.40h2.2M117.97 177.50V186.50M116.88 177.50h2.2M116.88 186.50h2.2M131.53 170.20V182.20M130.43 170.20h2.2M130.43 182.20h2.2M145.07 170.40V182.00M143.97 170.40h2.2M143.97 182.00h2.2" stroke="#3a3a3a" stroke-width="0.4" fill="none"/>
<text transform="translate(6.85 177.60) rotate(-90)" text-anchor="middle" font-size="4.5" textLength="56.0" lengthAdjust="spacingAndGlyphs">Relative density/proportion</text>
<text transform="translate(11.45 210.00) rotate(-90)" text-anchor="middle" font-size="3.0" font-weight="bold" fill="#333">0.0</text>
<text transform="translate(11.45 198.40) rotate(-90)" text-anchor="middle" font-size="3.0" font-weight="bold" fill="#333">0.5</text>
<text transform="translate(11.45 186.80) rotate(-90)" text-anchor="middle" font-size="3.0" font-weight="bold" fill="#333">1.0</text>
<text transform="translate(11.45 175.20) rotate(-90)" text-anchor="middle" font-size="3.0" font-weight="bold" fill="#333">1.5</text>
<text transform="translate(11.45 163.60) rotate(-90)" text-anchor="middle" font-size="3.0" font-weight="bold" fill="#333">2.0</text>
<text transform="translate(11.45 152.00) rotate(-90)" text-anchor="middle" font-size="3.0" font-weight="bold" fill="#333">2.5</text>
<text x="16.35" y="215.60" text-anchor="middle" font-size="3.0" font-weight="bold" fill="#333">0.0</text>
<text x="29.90" y="215.60" text-anchor="middle" font-size="3.0" font-weight="bold" fill="#333">0.1</text>
<text x="43.45" y="215.60" text-anchor="middle" font-size="3.0" font-weight="bold" fill="#333">0.2</text>
<text x="57.00" y="215.60" text-anchor="middle" font-size="3.0" font-weight="bold" fill="#333">0.3</text>
<text x="70.55" y="215.60" text-anchor="middle" font-size="3.0" font-weight="bold" fill="#333">0.4</text>
<text x="84.10" y="215.60" text-anchor="middle" font-size="3.0" font-weight="bold" fill="#333">0.5</text>
<text x="97.65" y="215.60" text-anchor="middle" font-size="3.0" font-weight="bold" fill="#333">0.6</text>
<text x="111.20" y="215.60" text-anchor="middle" font-size="3.0" font-weight="bold" fill="#333">0.7</text>
<text x="124.75" y="215.60" text-anchor="middle" font-size="3.0" font-weight="bold" fill="#333">0.8</text>
<text x="138.30" y="215.60" text-anchor="middle" font-size="3.0" font-weight="bold" fill="#333">0.9</text>
<text x="151.85" y="215.60" text-anchor="middle" font-size="3.0" font-weight="bold" fill="#333">1.0</text>
<text x="84.35" y="220.50" text-anchor="middle" font-size="4.5" textLength="80" lengthAdjust="spacingAndGlyphs">Quantile/decile of the reference distribution</text>
<rect x="35.35" y="226.00" width="4.6" height="1.7" fill="#7a7a7a" stroke="#444" stroke-width="0.4"/>
<text x="43.35" y="228.00" font-size="3.6" textLength="51" lengthAdjust="spacingAndGlyphs">Decile-specific relative proportion</text>
<line x1="93.55" y1="226.90" x2="98.95" y2="226.90" stroke="#2e2e2e" stroke-width="0.5"/>
<text x="100.75" y="228.00" font-size="3.6" textLength="36.5" lengthAdjust="spacingAndGlyphs">95% confidence interval</text>
<line x1="35.35" y1="230.30" x2="39.95" y2="230.30" stroke="#222" stroke-width="0.8"/>
<text x="43.35" y="231.40" font-size="3.6" textLength="24" lengthAdjust="spacingAndGlyphs">Relative density</text>
<line x1="94.35" y1="230.30" x2="98.95" y2="230.30" stroke="#2e2e2e" stroke-width="0.5" stroke-dasharray="1.6 1.0"/>
<text x="100.75" y="231.40" font-size="3.6" textLength="36.5" lengthAdjust="spacingAndGlyphs">99% confidence interval</text>
</g>
<g>
<line x1="348.85" y1="145.00" x2="348.85" y2="210.10" stroke="#f2f2f2" stroke-width="0.5"/>
<line x1="213.35" y1="199.15" x2="348.85" y2="199.15" stroke="#f5f5f5" stroke-width="0.5"/>
<line x1="213.35" y1="187.50" x2="348.85" y2="187.50" stroke="#f5f5f5" stroke-width="0.5"/>
<line x1="213.35" y1="175.85" x2="348.85" y2="175.85" stroke="#f5f5f5" stroke-width="0.5"/>
<line x1="213.35" y1="164.20" x2="348.85" y2="164.20" stroke="#f5f5f5" stroke-width="0.5"/>
<line x1="213.35" y1="152.55" x2="348.85" y2="152.55" stroke="#f5f5f5" stroke-width="0.5"/>
<line x1="226.90" y1="145.00" x2="226.90" y2="210.10" stroke="#f7f7f7" stroke-width="0.5"/>
<line x1="240.45" y1="145.00" x2="240.45" y2="210.10" stroke="#f7f7f7" stroke-width="0.5"/>
<line x1="254.00" y1="145.00" x2="254.00" y2="210.10" stroke="#f7f7f7" stroke-width="0.5"/>
<line x1="267.55" y1="145.00" x2="267.55" y2="210.10" stroke="#f7f7f7" stroke-width="0.5"/>
<line x1="281.10" y1="145.00" x2="281.10" y2="210.10" stroke="#f7f7f7" stroke-width="0.5"/>
<line x1="294.65" y1="145.00" x2="294.65" y2="210.10" stroke="#f7f7f7" stroke-width="0.5"/>
<line x1="308.20" y1="145.00" x2="308.20" y2="210.10" stroke="#f7f7f7" stroke-width="0.5"/>
<line x1="321.75" y1="145.00" x2="321.75" y2="210.10" stroke="#f7f7f7" stroke-width="0.5"/>
<line x1="335.30" y1="145.00" x2="335.30" y2="210.10" stroke="#f7f7f7" stroke-width="0.5"/>
<line x1="209.85" y1="187.30" x2="348.85" y2="187.30" stroke="#b9b9b9" stroke-width="0.6"/>
<rect x="213.35" y="205.00" width="13.55" height="5.10" fill="#c4c4c4"/>
<rect x="226.90" y="200.50" width="13.55" height="9.60" fill="#c4c4c4"/>
<rect x="240.45" y="189.30" width="13.55" height="20.80" fill="#c4c4c4"/>
<rect x="254.00" y="184.30" width="13.55" height="25.80" fill="#c4c4c4"/>
<rect x="267.55" y="188.80" width="13.55" height="21.30" fill="#c4c4c4"/>
<rect x="281.10" y="185.00" width="13.55" height="25.10" fill="#c4c4c4"/>
<rect x="294.65" y="188.00" width="13.55" height="22.10" fill="#c4c4c4"/>
<rect x="308.20" y="178.00" width="13.55" height="32.10" fill="#c4c4c4"/>
<rect x="321.75" y="176.80" width="13.55" height="33.30" fill="#c4c4c4"/>
<rect x="335.30" y="178.00" width="13.55" height="32.10" fill="#c4c4c4"/>
<path d="M213.35 205.00H226.90M226.90 200.50H240.45M240.45 189.30H254.00M254.00 184.30H267.55M267.55 188.80H281.10M281.10 185.00H294.65M294.65 188.00H308.20M308.20 178.00H321.75M321.75 176.80H335.30M335.30 178.00H348.85" stroke="#666" stroke-width="0.6" fill="none"/>
<path d="M213.35 205.00V210.10M348.85 178.00V210.10" stroke="#8e8e8e" stroke-width="0.5" fill="none"/>
<line x1="213.35" y1="210.10" x2="348.85" y2="210.10" stroke="#9a9a9a" stroke-width="0.5"/>
<line x1="213.35" y1="211.50" x2="348.85" y2="211.50" stroke="#e2e2e2" stroke-width="0.6"/>
<path d="M226.90 205.00V210.10M240.45 200.50V210.10M254.00 189.30V210.10M267.55 188.80V210.10M281.10 188.80V210.10M294.65 188.00V210.10M308.20 188.00V210.10M321.75 178.00V210.10M335.30 178.00V210.10" stroke="#2e2e2e" stroke-width="1.00" fill="none"/>
<path d="M226.90 200.50V205.00M240.45 189.30V200.50M254.00 184.30V189.30M267.55 184.30V188.80M281.10 185.00V188.80M294.65 185.00V188.00M308.20 178.00V188.00M321.75 176.80V178.00M335.30 176.80V178.00" stroke="#858585" stroke-width="0.55" fill="none"/>
<clipPath id="cp1_210"><rect x="212.85" y="141.00" width="137.00" height="69.10"/></clipPath>
<g clip-path="url(#cp1_210)" fill="none" stroke-linecap="round">
<path d="M213.35 199.04 C215.61 198.46 222.38 197.21 226.90 195.54 C231.42 193.87 236.38 191.21 240.45 189.04 C244.51 186.87 247.90 183.79 251.29 182.54 C254.68 181.29 258.06 181.46 260.77 181.54 C263.48 181.62 264.16 182.76 267.55 183.04 C270.94 183.32 276.58 183.44 281.10 183.24 C285.62 183.04 290.13 182.71 294.65 181.84 C299.17 180.97 304.81 179.09 308.20 178.04 C311.59 176.99 312.72 176.27 314.98 175.54 C317.23 174.81 318.36 174.09 321.75 173.64 C325.14 173.19 330.78 172.77 335.30 172.84 C339.82 172.91 346.59 173.84 348.85 174.04" stroke="#3d3d3d" stroke-width="0.5" stroke-dasharray="2.2 1.5"/>
<path d="M213.35 206.24 C215.61 205.66 222.38 204.41 226.90 202.74 C231.42 201.07 236.38 198.41 240.45 196.24 C244.51 194.07 247.90 190.99 251.29 189.74 C254.68 188.49 258.06 188.66 260.77 188.74 C263.48 188.82 264.16 189.96 267.55 190.24 C270.94 190.52 276.58 190.64 281.10 190.44 C285.62 190.24 290.13 189.91 294.65 189.04 C299.17 188.17 304.81 186.29 308.20 185.24 C311.59 184.19 312.72 183.47 314.98 182.74 C317.23 182.01 318.36 181.29 321.75 180.84 C325.14 180.39 330.78 179.97 335.30 180.04 C339.82 180.11 346.59 181.04 348.85 181.24" stroke="#3d3d3d" stroke-width="0.5" stroke-dasharray="2.2 1.5"/>
<path d="M213.35 201.02 C215.61 200.44 222.38 199.19 226.90 197.52 C231.42 195.85 236.38 193.19 240.45 191.02 C244.51 188.85 247.90 185.77 251.29 184.52 C254.68 183.27 258.06 183.44 260.77 183.52 C263.48 183.60 264.16 184.74 267.55 185.02 C270.94 185.30 276.58 185.42 281.10 185.22 C285.62 185.02 290.13 184.69 294.65 183.82 C299.17 182.95 304.81 181.07 308.20 180.02 C311.59 178.97 312.72 178.25 314.98 177.52 C317.23 176.79 318.36 176.07 321.75 175.62 C325.14 175.17 330.78 174.75 335.30 174.82 C339.82 174.89 346.59 175.82 348.85 176.02" stroke="#8a8a8a" stroke-width="0.28"/>
<path d="M213.35 204.98 C215.61 204.40 222.38 203.15 226.90 201.48 C231.42 199.81 236.38 197.15 240.45 194.98 C244.51 192.81 247.90 189.73 251.29 188.48 C254.68 187.23 258.06 187.40 260.77 187.48 C263.48 187.56 264.16 188.70 267.55 188.98 C270.94 189.26 276.58 189.38 281.10 189.18 C285.62 188.98 290.13 188.65 294.65 187.78 C299.17 186.91 304.81 185.03 308.20 183.98 C311.59 182.93 312.72 182.21 314.98 181.48 C317.23 180.75 318.36 180.03 321.75 179.58 C325.14 179.13 330.78 178.71 335.30 178.78 C339.82 178.85 346.59 179.78 348.85 179.98" stroke="#8a8a8a" stroke-width="0.28"/>
<path d="M213.35 203.00 C215.61 202.42 222.38 201.17 226.90 199.50 C231.42 197.83 236.38 195.17 240.45 193.00 C244.51 190.83 247.90 187.75 251.29 186.50 C254.68 185.25 258.06 185.42 260.77 185.50 C263.48 185.58 264.16 186.72 267.55 187.00 C270.94 187.28 276.58 187.40 281.10 187.20 C285.62 187.00 290.13 186.67 294.65 185.80 C299.17 184.93 304.81 183.05 308.20 182.00 C311.59 180.95 312.72 180.23 314.98 179.50 C317.23 178.77 318.36 178.05 321.75 177.60 C325.14 177.15 330.78 176.73 335.30 176.80 C339.82 176.87 346.59 177.80 348.85 178.00" stroke="#2a2a2a" stroke-width="0.72"/>
</g>
<path d="M220.12 202.50V207.50M219.03 202.50h2.2M219.03 207.50h2.2M233.68 196.00V205.00M232.58 196.00h2.2M232.58 205.00h2.2M247.22 184.80V193.80M246.12 184.80h2.2M246.12 193.80h2.2M260.77 178.80V189.80M259.67 178.80h2.2M259.67 189.80h2.2M274.32 183.80V193.80M273.22 183.80h2.2M273.22 193.80h2.2M287.88 180.00V190.00M286.77 180.00h2.2M286.77 190.00h2.2M301.43 183.00V193.00M300.32 183.00h2.2M300.32 193.00h2.2M314.98 173.50V182.50M313.88 173.50h2.2M313.88 182.50h2.2M328.52 172.30V181.30M327.42 172.30h2.2M327.42 181.30h2.2M342.07 174.00V182.00M340.97 174.00h2.2M340.97 182.00h2.2" stroke="#3a3a3a" stroke-width="0.4" fill="none"/>
<text transform="translate(203.85 181.30) rotate(-90)" text-anchor="middle" font-size="4.5" textLength="50.5" lengthAdjust="spacingAndGlyphs">Relative density/proportion</text>
<text transform="translate(208.45 210.80) rotate(-90)" text-anchor="middle" font-size="3.0" font-weight="bold" fill="#333">0.0</text>
<text transform="translate(208.45 199.15) rotate(-90)" text-anchor="middle" font-size="3.0" font-weight="bold" fill="#333">0.5</text>
<text transform="translate(208.45 187.50) rotate(-90)" text-anchor="middle" font-size="3.0" font-weight="bold" fill="#333">1.0</text>
<text transform="translate(208.45 175.85) rotate(-90)" text-anchor="middle" font-size="3.0" font-weight="bold" fill="#333">1.5</text>
<text transform="translate(208.45 164.20) rotate(-90)" text-anchor="middle" font-size="3.0" font-weight="bold" fill="#333">2.0</text>
<text transform="translate(208.45 152.55) rotate(-90)" text-anchor="middle" font-size="3.0" font-weight="bold" fill="#333">2.5</text>
<text x="213.35" y="215.80" text-anchor="middle" font-size="3.0" font-weight="bold" fill="#333">0.0</text>
<text x="226.90" y="215.80" text-anchor="middle" font-size="3.0" font-weight="bold" fill="#333">0.1</text>
<text x="240.45" y="215.80" text-anchor="middle" font-size="3.0" font-weight="bold" fill="#333">0.2</text>
<text x="254.00" y="215.80" text-anchor="middle" font-size="3.0" font-weight="bold" fill="#333">0.3</text>
<text x="267.55" y="215.80" text-anchor="middle" font-size="3.0" font-weight="bold" fill="#333">0.4</text>
<text x="281.10" y="215.80" text-anchor="middle" font-size="3.0" font-weight="bold" fill="#333">0.5</text>
<text x="294.65" y="215.80" text-anchor="middle" font-size="3.0" font-weight="bold" fill="#333">0.6</text>
<text x="308.20" y="215.80" text-anchor="middle" font-size="3.0" font-weight="bold" fill="#333">0.7</text>
<text x="321.75" y="215.80" text-anchor="middle" font-size="3.0" font-weight="bold" fill="#333">0.8</text>
<text x="335.30" y="215.80" text-anchor="middle" font-size="3.0" font-weight="bold" fill="#333">0.9</text>
<text x="348.85" y="215.80" text-anchor="middle" font-size="3.0" font-weight="bold" fill="#333">1.0</text>
<text x="281.35" y="220.70" text-anchor="middle" font-size="4.5" textLength="80" lengthAdjust="spacingAndGlyphs">Quantile/decile of the reference distribution</text>
<rect x="232.35" y="226.20" width="4.6" height="1.7" fill="#7a7a7a" stroke="#444" stroke-width="0.4"/>
<text x="240.35" y="228.20" font-size="3.6" textLength="51" lengthAdjust="spacingAndGlyphs">Decile-specific relative proportion</text>
<line x1="290.55" y1="227.10" x2="295.95" y2="227.10" stroke="#2e2e2e" stroke-width="0.5"/>
<text x="297.75" y="228.20" font-size="3.6" textLength="36.5" lengthAdjust="spacingAndGlyphs">95% confidence interval</text>
<line x1="232.35" y1="230.50" x2="236.95" y2="230.50" stroke="#222" stroke-width="0.8"/>
<text x="240.35" y="231.60" font-size="3.6" textLength="24" lengthAdjust="spacingAndGlyphs">Relative density</text>
<line x1="291.35" y1="230.50" x2="295.95" y2="230.50" stroke="#2e2e2e" stroke-width="0.5" stroke-dasharray="1.6 1.0"/>
<text x="297.75" y="231.60" font-size="3.6" textLength="36.5" lengthAdjust="spacingAndGlyphs">99% confidence interval</text>
</g>
<g>
<line x1="545.70" y1="139.00" x2="545.70" y2="202.40" stroke="#f2f2f2" stroke-width="0.5"/>
<line x1="410.00" y1="194.40" x2="545.70" y2="194.40" stroke="#f5f5f5" stroke-width="0.5"/>
<line x1="410.00" y1="180.60" x2="545.70" y2="180.60" stroke="#f5f5f5" stroke-width="0.5"/>
<line x1="410.00" y1="166.80" x2="545.70" y2="166.80" stroke="#f5f5f5" stroke-width="0.5"/>
<line x1="410.00" y1="153.00" x2="545.70" y2="153.00" stroke="#f5f5f5" stroke-width="0.5"/>
<line x1="423.57" y1="139.00" x2="423.57" y2="202.40" stroke="#f7f7f7" stroke-width="0.5"/>
<line x1="437.14" y1="139.00" x2="437.14" y2="202.40" stroke="#f7f7f7" stroke-width="0.5"/>
<line x1="450.71" y1="139.00" x2="450.71" y2="202.40" stroke="#f7f7f7" stroke-width="0.5"/>
<line x1="464.28" y1="139.00" x2="464.28" y2="202.40" stroke="#f7f7f7" stroke-width="0.5"/>
<line x1="477.85" y1="139.00" x2="477.85" y2="202.40" stroke="#f7f7f7" stroke-width="0.5"/>
<line x1="491.42" y1="139.00" x2="491.42" y2="202.40" stroke="#f7f7f7" stroke-width="0.5"/>
<line x1="504.99" y1="139.00" x2="504.99" y2="202.40" stroke="#f7f7f7" stroke-width="0.5"/>
<line x1="518.56" y1="139.00" x2="518.56" y2="202.40" stroke="#f7f7f7" stroke-width="0.5"/>
<line x1="532.13" y1="139.00" x2="532.13" y2="202.40" stroke="#f7f7f7" stroke-width="0.5"/>
<line x1="406.50" y1="180.50" x2="545.70" y2="180.50" stroke="#b9b9b9" stroke-width="0.6"/>
<rect x="410.00" y="165.00" width="13.57" height="37.40" fill="#c4c4c4"/>
<rect x="423.57" y="183.50" width="13.57" height="18.90" fill="#c4c4c4"/>
<rect x="437.14" y="185.00" width="13.57" height="17.40" fill="#c4c4c4"/>
<rect x="450.71" y="183.50" width="13.57" height="18.90" fill="#c4c4c4"/>
<rect x="464.28" y="184.00" width="13.57" height="18.40" fill="#c4c4c4"/>
<rect x="477.85" y="184.00" width="13.57" height="18.40" fill="#c4c4c4"/>
<rect x="491.42" y="183.50" width="13.57" height="18.90" fill="#c4c4c4"/>
<rect x="504.99" y="183.50" width="13.57" height="18.90" fill="#c4c4c4"/>
<rect x="518.56" y="179.00" width="13.57" height="23.40" fill="#c4c4c4"/>
<rect x="532.13" y="181.00" width="13.57" height="21.40" fill="#c4c4c4"/>
<path d="M410.00 165.00H423.57M423.57 183.50H437.14M437.14 185.00H450.71M450.71 183.50H464.28M464.28 184.00H477.85M477.85 184.00H491.42M491.42 183.50H504.99M504.99 183.50H518.56M518.56 179.00H532.13M532.13 181.00H545.70" stroke="#666" stroke-width="0.6" fill="none"/>
<path d="M410.00 165.00V202.40M545.70 181.00V202.40" stroke="#8e8e8e" stroke-width="0.5" fill="none"/>
<line x1="410.00" y1="202.40" x2="545.70" y2="202.40" stroke="#9a9a9a" stroke-width="0.5"/>
<line x1="410.00" y1="203.80" x2="545.70" y2="203.80" stroke="#e2e2e2" stroke-width="0.6"/>
<path d="M423.57 183.50V202.40M437.14 185.00V202.40M450.71 185.00V202.40M464.28 184.00V202.40M477.85 184.00V202.40M491.42 184.00V202.40M504.99 183.50V202.40M518.56 183.50V202.40M532.13 181.00V202.40" stroke="#2e2e2e" stroke-width="1.00" fill="none"/>
<path d="M423.57 165.00V183.50M437.14 183.50V185.00M450.71 183.50V185.00M464.28 183.50V184.00M491.42 183.50V184.00M518.56 179.00V183.50M532.13 179.00V181.00" stroke="#858585" stroke-width="0.55" fill="none"/>
<clipPath id="cp2_202"><rect x="409.50" y="135.00" width="137.20" height="67.40"/></clipPath>
<g clip-path="url(#cp2_202)" fill="none" stroke-linecap="round">
<path d="M410.00 144.35 C410.90 147.39 413.17 157.61 415.43 162.59 C417.69 167.57 421.08 171.32 423.57 174.26 C426.06 177.20 428.09 178.92 430.36 180.25 C432.62 181.58 434.88 182.07 437.14 182.24 C439.40 182.40 441.66 181.64 443.93 181.22 C446.19 180.80 447.32 179.72 450.71 179.71 C454.10 179.70 459.76 181.08 464.28 181.19 C468.80 181.30 473.33 180.54 477.85 180.36 C482.37 180.19 486.90 180.51 491.42 180.14 C495.94 179.76 500.47 178.87 504.99 178.11 C509.51 177.36 515.17 176.43 518.56 175.59 C521.95 174.75 523.08 173.66 525.35 173.08 C527.61 172.49 529.87 171.99 532.13 172.06 C534.39 172.14 536.65 172.82 538.91 173.55 C541.18 174.28 544.57 175.96 545.70 176.44" stroke="#3d3d3d" stroke-width="0.5" stroke-dasharray="2.2 1.5"/>
<path d="M410.00 167.35 C410.90 167.59 413.17 166.50 415.43 168.79 C417.69 171.07 421.08 178.01 423.57 181.06 C426.06 184.11 428.09 185.73 430.36 187.07 C432.62 188.41 434.88 188.91 437.14 189.08 C439.40 189.25 441.66 188.50 443.93 188.09 C446.19 187.68 447.32 186.59 450.71 186.60 C454.10 186.60 459.76 188.00 464.28 188.12 C468.80 188.24 473.33 187.50 477.85 187.34 C482.37 187.18 486.90 187.52 491.42 187.16 C495.94 186.80 500.47 185.92 504.99 185.18 C509.51 184.44 515.17 183.53 518.56 182.70 C521.95 181.87 523.08 180.79 525.35 180.21 C527.61 179.63 529.87 179.13 532.13 179.22 C534.39 179.31 536.65 179.99 538.91 180.73 C541.18 181.47 544.57 183.16 545.70 183.64" stroke="#3d3d3d" stroke-width="0.5" stroke-dasharray="2.2 1.5"/>
<path d="M410.00 150.68 C410.90 152.94 413.17 160.05 415.43 164.29 C417.69 168.54 421.08 173.16 423.57 176.13 C426.06 179.10 428.09 180.79 430.36 182.12 C432.62 183.46 434.88 183.95 437.14 184.12 C439.40 184.28 441.66 183.53 443.93 183.11 C446.19 182.69 447.32 181.61 450.71 181.61 C454.10 181.60 459.76 182.98 464.28 183.09 C468.80 183.21 473.33 182.45 477.85 182.28 C482.37 182.11 486.90 182.44 491.42 182.07 C495.94 181.70 500.47 180.81 504.99 180.06 C509.51 179.30 515.17 178.38 518.56 177.54 C521.95 176.71 523.08 175.62 525.35 175.04 C527.61 174.45 529.87 173.95 532.13 174.03 C534.39 174.11 536.65 174.79 538.91 175.53 C541.18 176.26 544.57 177.94 545.70 178.42" stroke="#8a8a8a" stroke-width="0.28"/>
<path d="M410.00 163.32 C410.90 164.06 413.17 164.95 415.43 167.71 C417.69 170.46 421.08 176.84 423.57 179.87 C426.06 182.90 428.09 184.54 430.36 185.88 C432.62 187.21 434.88 187.71 437.14 187.88 C439.40 188.05 441.66 187.30 443.93 186.89 C446.19 186.47 447.32 185.39 450.71 185.39 C454.10 185.40 459.76 186.79 464.28 186.91 C468.80 187.03 473.33 186.28 477.85 186.12 C482.37 185.96 486.90 186.29 491.42 185.93 C495.94 185.57 500.47 184.69 504.99 183.94 C509.51 183.20 515.17 182.29 518.56 181.46 C521.95 180.63 523.08 179.54 525.35 178.96 C527.61 178.38 529.87 177.88 532.13 177.97 C534.39 178.05 536.65 178.74 538.91 179.47 C541.18 180.21 544.57 181.90 545.70 182.38" stroke="#8a8a8a" stroke-width="0.28"/>
<path d="M410.00 157.00 C410.90 158.50 413.17 162.50 415.43 166.00 C417.69 169.50 421.08 175.00 423.57 178.00 C426.06 181.00 428.09 182.67 430.36 184.00 C432.62 185.33 434.88 185.83 437.14 186.00 C439.40 186.17 441.66 185.42 443.93 185.00 C446.19 184.58 447.32 183.50 450.71 183.50 C454.10 183.50 459.76 184.88 464.28 185.00 C468.80 185.12 473.33 184.37 477.85 184.20 C482.37 184.03 486.90 184.37 491.42 184.00 C495.94 183.63 500.47 182.75 504.99 182.00 C509.51 181.25 515.17 180.33 518.56 179.50 C521.95 178.67 523.08 177.58 525.35 177.00 C527.61 176.42 529.87 175.92 532.13 176.00 C534.39 176.08 536.65 176.77 538.91 177.50 C541.18 178.23 544.57 179.92 545.70 180.40" stroke="#2a2a2a" stroke-width="0.72"/>
</g>
<path d="M416.79 162.00V168.00M415.69 162.00h2.2M415.69 168.00h2.2M430.36 180.30V186.70M429.25 180.30h2.2M429.25 186.70h2.2M443.93 181.50V188.50M442.82 181.50h2.2M442.82 188.50h2.2M457.50 179.70V187.30M456.39 179.70h2.2M456.39 187.30h2.2M471.06 180.20V187.80M469.96 180.20h2.2M469.96 187.80h2.2M484.63 180.40V187.60M483.53 180.40h2.2M483.53 187.60h2.2M498.20 179.90V187.10M497.10 179.90h2.2M497.10 187.10h2.2M511.77 179.50V187.50M510.67 179.50h2.2M510.67 187.50h2.2M525.35 174.00V184.00M524.25 174.00h2.2M524.25 184.00h2.2M538.91 176.40V185.60M537.81 176.40h2.2M537.81 185.60h2.2" stroke="#3a3a3a" stroke-width="0.4" fill="none"/>
<text transform="translate(400.50 173.80) rotate(-90)" text-anchor="middle" font-size="4.5" textLength="50.0" lengthAdjust="spacingAndGlyphs">Relative density/proportion</text>
<text transform="translate(405.10 201.30) rotate(-90)" text-anchor="middle" font-size="3.0" font-weight="bold" fill="#333">0.0</text>
<text transform="translate(405.10 194.40) rotate(-90)" text-anchor="middle" font-size="3.0" font-weight="bold" fill="#333">0.5</text>
<text transform="translate(405.10 187.50) rotate(-90)" text-anchor="middle" font-size="3.0" font-weight="bold" fill="#333">1.0</text>
<text transform="translate(405.10 180.60) rotate(-90)" text-anchor="middle" font-size="3.0" font-weight="bold" fill="#333">1.5</text>
<text transform="translate(405.10 173.70) rotate(-90)" text-anchor="middle" font-size="3.0" font-weight="bold" fill="#333">2.0</text>
<text transform="translate(405.10 166.80) rotate(-90)" text-anchor="middle" font-size="3.0" font-weight="bold" fill="#333">2.5</text>
<text transform="translate(405.10 159.90) rotate(-90)" text-anchor="middle" font-size="3.0" font-weight="bold" fill="#333">3.0</text>
<text transform="translate(405.10 153.00) rotate(-90)" text-anchor="middle" font-size="3.0" font-weight="bold" fill="#333">3.5</text>
<text transform="translate(405.10 146.10) rotate(-90)" text-anchor="middle" font-size="3.0" font-weight="bold" fill="#333">4.0</text>
<text x="410.00" y="208.10" text-anchor="middle" font-size="3.0" font-weight="bold" fill="#333">0.0</text>
<text x="423.57" y="208.10" text-anchor="middle" font-size="3.0" font-weight="bold" fill="#333">0.1</text>
<text x="437.14" y="208.10" text-anchor="middle" font-size="3.0" font-weight="bold" fill="#333">0.2</text>
<text x="450.71" y="208.10" text-anchor="middle" font-size="3.0" font-weight="bold" fill="#333">0.3</text>
<text x="464.28" y="208.10" text-anchor="middle" font-size="3.0" font-weight="bold" fill="#333">0.4</text>
<text x="477.85" y="208.10" text-anchor="middle" font-size="3.0" font-weight="bold" fill="#333">0.5</text>
<text x="491.42" y="208.10" text-anchor="middle" font-size="3.0" font-weight="bold" fill="#333">0.6</text>
<text x="504.99" y="208.10" text-anchor="middle" font-size="3.0" font-weight="bold" fill="#333">0.7</text>
<text x="518.56" y="208.10" text-anchor="middle" font-size="3.0" font-weight="bold" fill="#333">0.8</text>
<text x="532.13" y="208.10" text-anchor="middle" font-size="3.0" font-weight="bold" fill="#333">0.9</text>
<text x="545.70" y="208.10" text-anchor="middle" font-size="3.0" font-weight="bold" fill="#333">1.0</text>
<text x="478.00" y="213.00" text-anchor="middle" font-size="4.5" textLength="80" lengthAdjust="spacingAndGlyphs">Quantile/decile of the reference distribution</text>
<rect x="429.00" y="218.50" width="4.6" height="1.7" fill="#7a7a7a" stroke="#444" stroke-width="0.4"/>
<text x="437.00" y="220.50" font-size="3.6" textLength="51" lengthAdjust="spacingAndGlyphs">Decile-specific relative proportion</text>
<line x1="487.20" y1="219.40" x2="492.60" y2="219.40" stroke="#2e2e2e" stroke-width="0.5"/>
<text x="494.40" y="220.50" font-size="3.6" textLength="36.5" lengthAdjust="spacingAndGlyphs">95% confidence interval</text>
<line x1="429.00" y1="222.80" x2="433.60" y2="222.80" stroke="#222" stroke-width="0.8"/>
<text x="437.00" y="223.90" font-size="3.6" textLength="24" lengthAdjust="spacingAndGlyphs">Relative density</text>
<line x1="488.00" y1="222.80" x2="492.60" y2="222.80" stroke="#2e2e2e" stroke-width="0.5" stroke-dasharray="1.6 1.0"/>
<text x="494.40" y="223.90" font-size="3.6" textLength="36.5" lengthAdjust="spacingAndGlyphs">99% confidence interval</text>
</g>
<g>
<line x1="151.85" y1="268.00" x2="151.85" y2="327.60" stroke="#f2f2f2" stroke-width="0.5"/>
<line x1="16.35" y1="317.53" x2="151.85" y2="317.53" stroke="#f5f5f5" stroke-width="0.5"/>
<line x1="16.35" y1="307.46" x2="151.85" y2="307.46" stroke="#f5f5f5" stroke-width="0.5"/>
<line x1="16.35" y1="297.39" x2="151.85" y2="297.39" stroke="#f5f5f5" stroke-width="0.5"/>
<line x1="16.35" y1="287.32" x2="151.85" y2="287.32" stroke="#f5f5f5" stroke-width="0.5"/>
<line x1="16.35" y1="277.25" x2="151.85" y2="277.25" stroke="#f5f5f5" stroke-width="0.5"/>
<line x1="29.90" y1="268.00" x2="29.90" y2="327.60" stroke="#f7f7f7" stroke-width="0.5"/>
<line x1="43.45" y1="268.00" x2="43.45" y2="327.60" stroke="#f7f7f7" stroke-width="0.5"/>
<line x1="57.00" y1="268.00" x2="57.00" y2="327.60" stroke="#f7f7f7" stroke-width="0.5"/>
<line x1="70.55" y1="268.00" x2="70.55" y2="327.60" stroke="#f7f7f7" stroke-width="0.5"/>
<line x1="84.10" y1="268.00" x2="84.10" y2="327.60" stroke="#f7f7f7" stroke-width="0.5"/>
<line x1="97.65" y1="268.00" x2="97.65" y2="327.60" stroke="#f7f7f7" stroke-width="0.5"/>
<line x1="111.20" y1="268.00" x2="111.20" y2="327.60" stroke="#f7f7f7" stroke-width="0.5"/>
<line x1="124.75" y1="268.00" x2="124.75" y2="327.60" stroke="#f7f7f7" stroke-width="0.5"/>
<line x1="138.30" y1="268.00" x2="138.30" y2="327.60" stroke="#f7f7f7" stroke-width="0.5"/>
<line x1="12.85" y1="307.20" x2="151.85" y2="307.20" stroke="#b9b9b9" stroke-width="0.6"/>
<rect x="16.35" y="314.00" width="13.55" height="13.60" fill="#c4c4c4"/>
<rect x="29.90" y="314.00" width="13.55" height="13.60" fill="#c4c4c4"/>
<rect x="43.45" y="307.70" width="13.55" height="19.90" fill="#c4c4c4"/>
<rect x="57.00" y="306.50" width="13.55" height="21.10" fill="#c4c4c4"/>
<rect x="70.55" y="309.70" width="13.55" height="17.90" fill="#c4c4c4"/>
<rect x="84.10" y="312.30" width="13.55" height="15.30" fill="#c4c4c4"/>
<rect x="97.65" y="310.20" width="13.55" height="17.40" fill="#c4c4c4"/>
<rect x="111.20" y="308.30" width="13.55" height="19.30" fill="#c4c4c4"/>
<rect x="124.75" y="303.00" width="13.55" height="24.60" fill="#c4c4c4"/>
<rect x="138.30" y="287.00" width="13.55" height="40.60" fill="#c4c4c4"/>
<path d="M16.35 314.00H29.90M29.90 314.00H43.45M43.45 307.70H57.00M57.00 306.50H70.55M70.55 309.70H84.10M84.10 312.30H97.65M97.65 310.20H111.20M111.20 308.30H124.75M124.75 303.00H138.30M138.30 287.00H151.85" stroke="#666" stroke-width="0.6" fill="none"/>
<path d="M16.35 314.00V327.60M151.85 287.00V327.60" stroke="#8e8e8e" stroke-width="0.5" fill="none"/>
<line x1="16.35" y1="327.60" x2="151.85" y2="327.60" stroke="#9a9a9a" stroke-width="0.5"/>
<line x1="16.35" y1="329.00" x2="151.85" y2="329.00" stroke="#e2e2e2" stroke-width="0.6"/>
<path d="M29.90 314.00V327.60M43.45 314.00V327.60M57.00 307.70V327.60M70.55 309.70V327.60M84.10 312.30V327.60M97.65 312.30V327.60M111.20 310.20V327.60M124.75 308.30V327.60M138.30 303.00V327.60" stroke="#3a3a3a" stroke-width="0.90" fill="none"/>
<path d="M43.45 307.70V314.00M57.00 306.50V307.70M70.55 306.50V309.70M84.10 309.70V312.30M97.65 310.20V312.30M111.20 308.30V310.20M124.75 303.00V308.30M138.30 287.00V303.00" stroke="#858585" stroke-width="0.55" fill="none"/>
<clipPath id="cp0_327"><rect x="15.85" y="264.00" width="137.00" height="63.60"/></clipPath>
<g clip-path="url(#cp0_327)" fill="none" stroke-linecap="round">
<path d="M16.35 299.21 C16.80 300.51 17.93 304.37 19.06 307.00 C20.19 309.63 21.77 313.33 23.12 314.99 C24.48 316.66 26.06 316.82 27.19 316.98 C28.32 317.15 28.32 316.65 29.90 315.98 C31.48 315.31 34.42 314.30 36.67 312.96 C38.93 311.62 41.19 309.28 43.45 307.94 C45.71 306.61 47.97 305.50 50.23 304.93 C52.48 304.36 54.74 304.27 57.00 304.51 C59.26 304.76 61.52 305.72 63.77 306.39 C66.03 307.07 67.16 307.79 70.55 308.58 C73.94 309.37 79.58 310.94 84.10 311.15 C88.62 311.35 93.13 310.37 97.65 309.81 C102.17 309.25 106.68 308.54 111.20 307.78 C115.72 307.02 121.59 306.50 124.75 305.25 C127.91 303.99 128.59 301.57 130.17 300.23 C131.75 298.90 132.88 297.56 134.24 297.22 C135.59 296.89 136.95 298.97 138.30 298.21 C139.66 297.46 140.78 295.96 142.37 292.70 C143.95 289.45 146.20 283.11 147.78 278.69 C149.37 274.27 151.17 268.26 151.85 266.18" stroke="#666" stroke-width="0.3" stroke-dasharray="1.5 1.2"/>
<path d="M16.35 301.01 C16.80 302.31 17.93 306.18 19.06 308.82 C20.19 311.45 21.77 315.15 23.12 316.82 C24.48 318.49 26.06 318.66 27.19 318.83 C28.32 319.00 28.32 318.50 29.90 317.84 C31.48 317.17 34.42 316.18 36.67 314.85 C38.93 313.52 41.19 311.19 43.45 309.86 C45.71 308.54 47.97 307.44 50.23 306.88 C52.48 306.32 54.74 306.24 57.00 306.49 C59.26 306.75 61.52 307.72 63.77 308.40 C66.03 309.09 67.16 309.81 70.55 310.62 C73.94 311.42 79.58 313.02 84.10 313.25 C88.62 313.47 93.13 312.51 97.65 311.97 C102.17 311.43 106.68 310.74 111.20 310.00 C115.72 309.26 121.59 308.77 124.75 307.53 C127.91 306.28 128.59 303.87 130.17 302.54 C131.75 301.21 132.88 299.88 134.24 299.54 C135.59 299.21 136.95 301.30 138.30 300.55 C139.66 299.81 140.78 298.31 142.37 295.06 C143.95 291.81 146.20 285.49 147.78 281.07 C149.37 276.66 151.17 270.66 151.85 268.58" stroke="#666" stroke-width="0.3" stroke-dasharray="1.5 1.2"/>
<path d="M16.35 300.20 C16.80 301.50 17.93 305.37 19.06 308.00 C20.19 310.63 21.77 314.33 23.12 316.00 C24.48 317.67 26.06 317.83 27.19 318.00 C28.32 318.17 28.32 317.67 29.90 317.00 C31.48 316.33 34.42 315.33 36.67 314.00 C38.93 312.67 41.19 310.33 43.45 309.00 C45.71 307.67 47.97 306.57 50.23 306.00 C52.48 305.43 54.74 305.35 57.00 305.60 C59.26 305.85 61.52 306.82 63.77 307.50 C66.03 308.18 67.16 308.90 70.55 309.70 C73.94 310.50 79.58 312.08 84.10 312.30 C88.62 312.52 93.13 311.55 97.65 311.00 C102.17 310.45 106.68 309.75 111.20 309.00 C115.72 308.25 121.59 307.75 124.75 306.50 C127.91 305.25 128.59 302.83 130.17 301.50 C131.75 300.17 132.88 298.83 134.24 298.50 C135.59 298.17 136.95 300.25 138.30 299.50 C139.66 298.75 140.78 297.25 142.37 294.00 C143.95 290.75 146.20 284.42 147.78 280.00 C149.37 275.58 151.17 269.58 151.85 267.50" stroke="#2e2e2e" stroke-width="0.95" stroke-dasharray="2.6 0.4"/>
</g>
<text transform="translate(6.85 298.70) rotate(-90)" text-anchor="middle" font-size="4.5" textLength="50.7" lengthAdjust="spacingAndGlyphs">Relative density/proportion</text>
<text transform="translate(11.45 327.60) rotate(-90)" text-anchor="middle" font-size="3.0" font-weight="bold" fill="#333">0.0</text>
<text transform="translate(11.45 317.53) rotate(-90)" text-anchor="middle" font-size="3.0" font-weight="bold" fill="#333">0.5</text>
<text transform="translate(11.45 307.46) rotate(-90)" text-anchor="middle" font-size="3.0" font-weight="bold" fill="#333">1.0</text>
<text transform="translate(11.45 297.39) rotate(-90)" text-anchor="middle" font-size="3.0" font-weight="bold" fill="#333">1.5</text>
<text transform="translate(11.45 287.32) rotate(-90)" text-anchor="middle" font-size="3.0" font-weight="bold" fill="#333">2.0</text>
<text transform="translate(11.45 277.25) rotate(-90)" text-anchor="middle" font-size="3.0" font-weight="bold" fill="#333">2.5</text>
<text x="16.35" y="333.30" text-anchor="middle" font-size="3.0" font-weight="bold" fill="#333">0.0</text>
<text x="29.90" y="333.30" text-anchor="middle" font-size="3.0" font-weight="bold" fill="#333">0.1</text>
<text x="43.45" y="333.30" text-anchor="middle" font-size="3.0" font-weight="bold" fill="#333">0.2</text>
<text x="57.00" y="333.30" text-anchor="middle" font-size="3.0" font-weight="bold" fill="#333">0.3</text>
<text x="70.55" y="333.30" text-anchor="middle" font-size="3.0" font-weight="bold" fill="#333">0.4</text>
<text x="84.10" y="333.30" text-anchor="middle" font-size="3.0" font-weight="bold" fill="#333">0.5</text>
<text x="97.65" y="333.30" text-anchor="middle" font-size="3.0" font-weight="bold" fill="#333">0.6</text>
<text x="111.20" y="333.30" text-anchor="middle" font-size="3.0" font-weight="bold" fill="#333">0.7</text>
<text x="124.75" y="333.30" text-anchor="middle" font-size="3.0" font-weight="bold" fill="#333">0.8</text>
<text x="138.30" y="333.30" text-anchor="middle" font-size="3.0" font-weight="bold" fill="#333">0.9</text>
<text x="151.85" y="333.30" text-anchor="middle" font-size="3.0" font-weight="bold" fill="#333">1.0</text>
<text x="84.35" y="338.20" text-anchor="middle" font-size="4.5" textLength="80" lengthAdjust="spacingAndGlyphs">Quantile/decile of the reference distribution</text>
<rect x="35.35" y="343.70" width="4.6" height="1.7" fill="#7a7a7a" stroke="#444" stroke-width="0.4"/>
<text x="43.35" y="345.70" font-size="3.6" textLength="51" lengthAdjust="spacingAndGlyphs">Decile-specific relative proportion</text>
<line x1="93.55" y1="344.60" x2="98.95" y2="344.60" stroke="#2e2e2e" stroke-width="0.5"/>
<text x="100.75" y="345.70" font-size="3.6" textLength="36.5" lengthAdjust="spacingAndGlyphs">95% confidence interval</text>
<line x1="35.35" y1="348.00" x2="39.95" y2="348.00" stroke="#222" stroke-width="0.8"/>
<text x="43.35" y="349.10" font-size="3.6" textLength="24" lengthAdjust="spacingAndGlyphs">Relative density</text>
<line x1="94.35" y1="348.00" x2="98.95" y2="348.00" stroke="#2e2e2e" stroke-width="0.5" stroke-dasharray="1.6 1.0"/>
<text x="100.75" y="349.10" font-size="3.6" textLength="36.5" lengthAdjust="spacingAndGlyphs">99% confidence interval</text>
</g>
<g>
<line x1="348.85" y1="268.00" x2="348.85" y2="327.60" stroke="#f2f2f2" stroke-width="0.5"/>
<line x1="213.35" y1="316.30" x2="348.85" y2="316.30" stroke="#f5f5f5" stroke-width="0.5"/>
<line x1="213.35" y1="304.60" x2="348.85" y2="304.60" stroke="#f5f5f5" stroke-width="0.5"/>
<line x1="213.35" y1="292.90" x2="348.85" y2="292.90" stroke="#f5f5f5" stroke-width="0.5"/>
<line x1="213.35" y1="281.20" x2="348.85" y2="281.20" stroke="#f5f5f5" stroke-width="0.5"/>
<line x1="213.35" y1="269.50" x2="348.85" y2="269.50" stroke="#f5f5f5" stroke-width="0.5"/>
<line x1="226.90" y1="268.00" x2="226.90" y2="327.60" stroke="#f7f7f7" stroke-width="0.5"/>
<line x1="240.45" y1="268.00" x2="240.45" y2="327.60" stroke="#f7f7f7" stroke-width="0.5"/>
<line x1="254.00" y1="268.00" x2="254.00" y2="327.60" stroke="#f7f7f7" stroke-width="0.5"/>
<line x1="267.55" y1="268.00" x2="267.55" y2="327.60" stroke="#f7f7f7" stroke-width="0.5"/>
<line x1="281.10" y1="268.00" x2="281.10" y2="327.60" stroke="#f7f7f7" stroke-width="0.5"/>
<line x1="294.65" y1="268.00" x2="294.65" y2="327.60" stroke="#f7f7f7" stroke-width="0.5"/>
<line x1="308.20" y1="268.00" x2="308.20" y2="327.60" stroke="#f7f7f7" stroke-width="0.5"/>
<line x1="321.75" y1="268.00" x2="321.75" y2="327.60" stroke="#f7f7f7" stroke-width="0.5"/>
<line x1="335.30" y1="268.00" x2="335.30" y2="327.60" stroke="#f7f7f7" stroke-width="0.5"/>
<line x1="209.85" y1="304.50" x2="348.85" y2="304.50" stroke="#b9b9b9" stroke-width="0.6"/>
<rect x="213.35" y="319.00" width="13.55" height="8.60" fill="#c4c4c4"/>
<rect x="226.90" y="312.30" width="13.55" height="15.30" fill="#c4c4c4"/>
<rect x="240.45" y="304.00" width="13.55" height="23.60" fill="#c4c4c4"/>
<rect x="254.00" y="307.20" width="13.55" height="20.40" fill="#c4c4c4"/>
<rect x="267.55" y="306.50" width="13.55" height="21.10" fill="#c4c4c4"/>
<rect x="281.10" y="304.70" width="13.55" height="22.90" fill="#c4c4c4"/>
<rect x="294.65" y="302.00" width="13.55" height="25.60" fill="#c4c4c4"/>
<rect x="308.20" y="300.20" width="13.55" height="27.40" fill="#c4c4c4"/>
<rect x="321.75" y="296.60" width="13.55" height="31.00" fill="#c4c4c4"/>
<rect x="335.30" y="294.80" width="13.55" height="32.80" fill="#c4c4c4"/>
<path d="M213.35 319.00H226.90M226.90 312.30H240.45M240.45 304.00H254.00M254.00 307.20H267.55M267.55 306.50H281.10M281.10 304.70H294.65M294.65 302.00H308.20M308.20 300.20H321.75M321.75 296.60H335.30M335.30 294.80H348.85" stroke="#666" stroke-width="0.6" fill="none"/>
<path d="M213.35 319.00V327.60M348.85 294.80V327.60" stroke="#8e8e8e" stroke-width="0.5" fill="none"/>
<line x1="213.35" y1="327.60" x2="348.85" y2="327.60" stroke="#9a9a9a" stroke-width="0.5"/>
<line x1="213.35" y1="329.00" x2="348.85" y2="329.00" stroke="#e2e2e2" stroke-width="0.6"/>
<path d="M226.90 319.00V327.60M240.45 312.30V327.60M254.00 307.20V327.60M267.55 307.20V327.60M281.10 306.50V327.60M294.65 304.70V327.60M308.20 302.00V327.60M321.75 300.20V327.60M335.30 296.60V327.60" stroke="#3a3a3a" stroke-width="0.90" fill="none"/>
<path d="M226.90 312.30V319.00M240.45 304.00V312.30M254.00 304.00V307.20M267.55 306.50V307.20M281.10 304.70V306.50M294.65 302.00V304.70M308.20 300.20V302.00M321.75 296.60V300.20M335.30 294.80V296.60" stroke="#858585" stroke-width="0.55" fill="none"/>
<clipPath id="cp1_327"><rect x="212.85" y="264.00" width="137.00" height="63.60"/></clipPath>
<g clip-path="url(#cp1_327)" fill="none" stroke-linecap="round">
<path d="M213.35 317.42 C214.48 317.64 217.87 318.68 220.12 318.71 C222.38 318.75 224.64 318.71 226.90 317.61 C229.16 316.51 231.42 314.24 233.67 312.10 C235.93 309.97 238.19 306.52 240.45 304.80 C242.71 303.08 244.97 302.14 247.22 301.79 C249.48 301.44 251.74 302.14 254.00 302.69 C256.26 303.24 258.52 304.48 260.77 305.08 C263.03 305.68 264.16 306.33 267.55 306.28 C270.94 306.22 276.58 305.44 281.10 304.76 C285.62 304.09 290.13 303.14 294.65 302.25 C299.17 301.37 303.68 300.21 308.20 299.44 C312.72 298.67 317.23 298.50 321.75 297.63 C326.27 296.76 331.91 294.96 335.30 294.22 C338.69 293.48 339.82 293.12 342.07 293.22 C344.33 293.31 347.72 294.54 348.85 294.81" stroke="#666" stroke-width="0.3" stroke-dasharray="1.5 1.2"/>
<path d="M213.35 319.02 C214.48 319.24 217.87 320.29 220.12 320.32 C222.38 320.36 224.64 320.33 226.90 319.23 C229.16 318.13 231.42 315.87 233.67 313.73 C235.93 311.60 238.19 308.15 240.45 306.44 C242.71 304.72 244.97 303.79 247.22 303.44 C249.48 303.09 251.74 303.80 254.00 304.35 C256.26 304.90 258.52 306.15 260.77 306.75 C263.03 307.35 264.16 308.00 267.55 307.96 C270.94 307.91 276.58 307.13 281.10 306.46 C285.62 305.80 290.13 304.85 294.65 303.97 C299.17 303.09 303.68 301.95 308.20 301.18 C312.72 300.42 317.23 300.26 321.75 299.39 C326.27 298.53 331.91 296.73 335.30 296.00 C338.69 295.27 339.82 294.90 342.07 295.01 C344.33 295.11 347.72 296.34 348.85 296.61" stroke="#666" stroke-width="0.3" stroke-dasharray="1.5 1.2"/>
<path d="M213.35 318.30 C214.48 318.52 217.87 319.57 220.12 319.60 C222.38 319.63 224.64 319.60 226.90 318.50 C229.16 317.40 231.42 315.13 233.67 313.00 C235.93 310.87 238.19 307.42 240.45 305.70 C242.71 303.98 244.97 303.05 247.22 302.70 C249.48 302.35 251.74 303.05 254.00 303.60 C256.26 304.15 258.52 305.40 260.77 306.00 C263.03 306.60 264.16 307.25 267.55 307.20 C270.94 307.15 276.58 306.37 281.10 305.70 C285.62 305.03 290.13 304.08 294.65 303.20 C299.17 302.32 303.68 301.17 308.20 300.40 C312.72 299.63 317.23 299.47 321.75 298.60 C326.27 297.73 331.91 295.93 335.30 295.20 C338.69 294.47 339.82 294.10 342.07 294.20 C344.33 294.30 347.72 295.53 348.85 295.80" stroke="#2e2e2e" stroke-width="0.95" stroke-dasharray="2.6 0.4"/>
</g>
<text transform="translate(203.85 298.70) rotate(-90)" text-anchor="middle" font-size="4.5" textLength="50.7" lengthAdjust="spacingAndGlyphs">Relative density/proportion</text>
<text transform="translate(208.45 328.00) rotate(-90)" text-anchor="middle" font-size="3.0" font-weight="bold" fill="#333">0.0</text>
<text transform="translate(208.45 316.30) rotate(-90)" text-anchor="middle" font-size="3.0" font-weight="bold" fill="#333">0.5</text>
<text transform="translate(208.45 304.60) rotate(-90)" text-anchor="middle" font-size="3.0" font-weight="bold" fill="#333">1.0</text>
<text transform="translate(208.45 292.90) rotate(-90)" text-anchor="middle" font-size="3.0" font-weight="bold" fill="#333">1.5</text>
<text transform="translate(208.45 281.20) rotate(-90)" text-anchor="middle" font-size="3.0" font-weight="bold" fill="#333">2.0</text>
<text transform="translate(208.45 269.50) rotate(-90)" text-anchor="middle" font-size="3.0" font-weight="bold" fill="#333">2.5</text>
<text x="213.35" y="333.30" text-anchor="middle" font-size="3.0" font-weight="bold" fill="#333">0.0</text>
<text x="226.90" y="333.30" text-anchor="middle" font-size="3.0" font-weight="bold" fill="#333">0.1</text>
<text x="240.45" y="333.30" text-anchor="middle" font-size="3.0" font-weight="bold" fill="#333">0.2</text>
<text x="254.00" y="333.30" text-anchor="middle" font-size="3.0" font-weight="bold" fill="#333">0.3</text>
<text x="267.55" y="333.30" text-anchor="middle" font-size="3.0" font-weight="bold" fill="#333">0.4</text>
<text x="281.10" y="333.30" text-anchor="middle" font-size="3.0" font-weight="bold" fill="#333">0.5</text>
<text x="294.65" y="333.30" text-anchor="middle" font-size="3.0" font-weight="bold" fill="#333">0.6</text>
<text x="308.20" y="333.30" text-anchor="middle" font-size="3.0" font-weight="bold" fill="#333">0.7</text>
<text x="321.75" y="333.30" text-anchor="middle" font-size="3.0" font-weight="bold" fill="#333">0.8</text>
<text x="335.30" y="333.30" text-anchor="middle" font-size="3.0" font-weight="bold" fill="#333">0.9</text>
<text x="348.85" y="333.30" text-anchor="middle" font-size="3.0" font-weight="bold" fill="#333">1.0</text>
<text x="281.35" y="338.20" text-anchor="middle" font-size="4.5" textLength="80" lengthAdjust="spacingAndGlyphs">Quantile/decile of the reference distribution</text>
<rect x="232.35" y="343.70" width="4.6" height="1.7" fill="#7a7a7a" stroke="#444" stroke-width="0.4"/>
<text x="240.35" y="345.70" font-size="3.6" textLength="51" lengthAdjust="spacingAndGlyphs">Decile-specific relative proportion</text>
<line x1="290.55" y1="344.60" x2="295.95" y2="344.60" stroke="#2e2e2e" stroke-width="0.5"/>
<text x="297.75" y="345.70" font-size="3.6" textLength="36.5" lengthAdjust="spacingAndGlyphs">95% confidence interval</text>
<line x1="232.35" y1="348.00" x2="236.95" y2="348.00" stroke="#222" stroke-width="0.8"/>
<text x="240.35" y="349.10" font-size="3.6" textLength="24" lengthAdjust="spacingAndGlyphs">Relative density</text>
<line x1="291.35" y1="348.00" x2="295.95" y2="348.00" stroke="#2e2e2e" stroke-width="0.5" stroke-dasharray="1.6 1.0"/>
<text x="297.75" y="349.10" font-size="3.6" textLength="36.5" lengthAdjust="spacingAndGlyphs">99% confidence interval</text>
</g>
<g>
<line x1="545.70" y1="268.00" x2="545.70" y2="327.80" stroke="#f2f2f2" stroke-width="0.5"/>
<line x1="410.00" y1="316.30" x2="545.70" y2="316.30" stroke="#f5f5f5" stroke-width="0.5"/>
<line x1="410.00" y1="304.60" x2="545.70" y2="304.60" stroke="#f5f5f5" stroke-width="0.5"/>
<line x1="410.00" y1="292.90" x2="545.70" y2="292.90" stroke="#f5f5f5" stroke-width="0.5"/>
<line x1="410.00" y1="281.20" x2="545.70" y2="281.20" stroke="#f5f5f5" stroke-width="0.5"/>
<line x1="410.00" y1="269.50" x2="545.70" y2="269.50" stroke="#f5f5f5" stroke-width="0.5"/>
<line x1="423.57" y1="268.00" x2="423.57" y2="327.80" stroke="#f7f7f7" stroke-width="0.5"/>
<line x1="437.14" y1="268.00" x2="437.14" y2="327.80" stroke="#f7f7f7" stroke-width="0.5"/>
<line x1="450.71" y1="268.00" x2="450.71" y2="327.80" stroke="#f7f7f7" stroke-width="0.5"/>
<line x1="464.28" y1="268.00" x2="464.28" y2="327.80" stroke="#f7f7f7" stroke-width="0.5"/>
<line x1="477.85" y1="268.00" x2="477.85" y2="327.80" stroke="#f7f7f7" stroke-width="0.5"/>
<line x1="491.42" y1="268.00" x2="491.42" y2="327.80" stroke="#f7f7f7" stroke-width="0.5"/>
<line x1="504.99" y1="268.00" x2="504.99" y2="327.80" stroke="#f7f7f7" stroke-width="0.5"/>
<line x1="518.56" y1="268.00" x2="518.56" y2="327.80" stroke="#f7f7f7" stroke-width="0.5"/>
<line x1="532.13" y1="268.00" x2="532.13" y2="327.80" stroke="#f7f7f7" stroke-width="0.5"/>
<line x1="406.50" y1="306.30" x2="545.70" y2="306.30" stroke="#b9b9b9" stroke-width="0.6"/>
<rect x="410.00" y="297.20" width="13.57" height="30.60" fill="#c4c4c4"/>
<rect x="423.57" y="306.50" width="13.57" height="21.30" fill="#c4c4c4"/>
<rect x="437.14" y="304.00" width="13.57" height="23.80" fill="#c4c4c4"/>
<rect x="450.71" y="305.70" width="13.57" height="22.10" fill="#c4c4c4"/>
<rect x="464.28" y="309.00" width="13.57" height="18.80" fill="#c4c4c4"/>
<rect x="477.85" y="310.20" width="13.57" height="17.60" fill="#c4c4c4"/>
<rect x="491.42" y="310.20" width="13.57" height="17.60" fill="#c4c4c4"/>
<rect x="504.99" y="309.20" width="13.57" height="18.60" fill="#c4c4c4"/>
<rect x="518.56" y="305.30" width="13.57" height="22.50" fill="#c4c4c4"/>
<rect x="532.13" y="292.00" width="13.57" height="35.80" fill="#c4c4c4"/>
<path d="M410.00 297.20H423.57M423.57 306.50H437.14M437.14 304.00H450.71M450.71 305.70H464.28M464.28 309.00H477.85M477.85 310.20H491.42M491.42 310.20H504.99M504.99 309.20H518.56M518.56 305.30H532.13M532.13 292.00H545.70" stroke="#666" stroke-width="0.6" fill="none"/>
<path d="M410.00 297.20V327.80M545.70 292.00V327.80" stroke="#8e8e8e" stroke-width="0.5" fill="none"/>
<line x1="410.00" y1="327.80" x2="545.70" y2="327.80" stroke="#9a9a9a" stroke-width="0.5"/>
<line x1="410.00" y1="329.20" x2="545.70" y2="329.20" stroke="#e2e2e2" stroke-width="0.6"/>
<path d="M423.57 306.50V327.80M437.14 306.50V327.80M450.71 305.70V327.80M464.28 309.00V327.80M477.85 310.20V327.80M491.42 310.20V327.80M504.99 310.20V327.80M518.56 309.20V327.80M532.13 305.30V327.80" stroke="#3a3a3a" stroke-width="0.90" fill="none"/>
<path d="M423.57 297.20V306.50M437.14 304.00V306.50M450.71 304.00V305.70M464.28 305.70V309.00M477.85 309.00V310.20M504.99 309.20V310.20M518.56 305.30V309.20M532.13 292.00V305.30" stroke="#858585" stroke-width="0.55" fill="none"/>
<clipPath id="cp2_327"><rect x="409.50" y="264.00" width="137.20" height="63.80"/></clipPath>
<g clip-path="url(#cp2_327)" fill="none" stroke-linecap="round">
<path d="M410.00 269.75 C410.34 271.39 411.36 276.37 412.04 279.58 C412.71 282.79 413.28 286.17 414.07 289.01 C414.86 291.85 415.88 294.49 416.79 296.62 C417.69 298.75 418.37 300.32 419.50 301.82 C420.63 303.31 421.76 305.06 423.57 305.61 C425.38 306.16 428.09 305.40 430.36 305.10 C432.62 304.79 433.75 303.97 437.14 303.79 C440.53 303.60 447.32 303.67 450.71 303.96 C454.10 304.26 455.23 305.09 457.50 305.55 C459.76 306.01 460.89 306.21 464.28 306.74 C467.67 307.27 473.33 308.22 477.85 308.72 C482.37 309.21 486.90 309.70 491.42 309.69 C495.94 309.68 500.47 309.19 504.99 308.67 C509.51 308.15 515.17 307.34 518.56 306.55 C521.95 305.76 523.08 304.81 525.35 303.93 C527.61 303.06 530.32 302.66 532.13 301.32 C533.94 299.99 534.84 297.82 536.20 295.92 C537.56 294.01 539.14 292.24 540.27 289.91 C541.40 287.57 542.08 284.57 542.99 281.90 C543.89 279.24 545.25 275.23 545.70 273.90" stroke="#666" stroke-width="0.3" stroke-dasharray="1.5 1.2"/>
<path d="M410.00 272.75 C410.34 274.32 411.36 279.09 412.04 282.16 C412.71 285.23 413.28 288.50 414.07 291.17 C414.86 293.85 415.88 296.18 416.79 298.22 C417.69 300.26 418.37 301.92 419.50 303.42 C420.63 304.93 421.76 306.68 423.57 307.23 C425.38 307.78 428.09 307.04 430.36 306.74 C432.62 306.44 433.75 305.63 437.14 305.45 C440.53 305.27 447.32 305.36 450.71 305.67 C454.10 305.97 455.23 306.81 457.50 307.28 C459.76 307.75 460.89 307.95 464.28 308.49 C467.67 309.02 473.33 310.00 477.85 310.51 C482.37 311.01 486.90 311.52 491.42 311.52 C495.94 311.53 500.47 311.05 504.99 310.54 C509.51 310.03 515.17 309.24 518.56 308.46 C521.95 307.68 523.08 306.74 525.35 305.87 C527.61 305.01 530.32 304.61 532.13 303.28 C533.94 301.95 534.84 299.78 536.20 297.89 C537.56 295.99 539.14 294.22 540.27 291.89 C541.40 289.56 542.08 286.56 542.99 283.90 C543.89 281.23 545.25 277.23 545.70 275.90" stroke="#666" stroke-width="0.3" stroke-dasharray="1.5 1.2"/>
<path d="M410.00 271.40 C410.34 273.00 411.36 277.87 412.04 281.00 C412.71 284.13 413.28 287.45 414.07 290.20 C414.86 292.95 415.88 295.42 416.79 297.50 C417.69 299.58 418.37 301.20 419.50 302.70 C420.63 304.20 421.76 305.95 423.57 306.50 C425.38 307.05 428.09 306.30 430.36 306.00 C432.62 305.70 433.75 304.88 437.14 304.70 C440.53 304.52 447.32 304.60 450.71 304.90 C454.10 305.20 455.23 306.03 457.50 306.50 C459.76 306.97 460.89 307.17 464.28 307.70 C467.67 308.23 473.33 309.20 477.85 309.70 C482.37 310.20 486.90 310.70 491.42 310.70 C495.94 310.70 500.47 310.22 504.99 309.70 C509.51 309.18 515.17 308.38 518.56 307.60 C521.95 306.82 523.08 305.87 525.35 305.00 C527.61 304.13 530.32 303.73 532.13 302.40 C533.94 301.07 534.84 298.90 536.20 297.00 C537.56 295.10 539.14 293.33 540.27 291.00 C541.40 288.67 542.08 285.67 542.99 283.00 C543.89 280.33 545.25 276.33 545.70 275.00" stroke="#2e2e2e" stroke-width="0.95" stroke-dasharray="2.6 0.4"/>
</g>
<text transform="translate(400.50 298.20) rotate(-90)" text-anchor="middle" font-size="4.5" textLength="50.7" lengthAdjust="spacingAndGlyphs">Relative density/proportion</text>
<text transform="translate(405.10 328.00) rotate(-90)" text-anchor="middle" font-size="3.0" font-weight="bold" fill="#333">0.0</text>
<text transform="translate(405.10 316.30) rotate(-90)" text-anchor="middle" font-size="3.0" font-weight="bold" fill="#333">0.5</text>
<text transform="translate(405.10 304.60) rotate(-90)" text-anchor="middle" font-size="3.0" font-weight="bold" fill="#333">1.0</text>
<text transform="translate(405.10 292.90) rotate(-90)" text-anchor="middle" font-size="3.0" font-weight="bold" fill="#333">1.5</text>
<text transform="translate(405.10 281.20) rotate(-90)" text-anchor="middle" font-size="3.0" font-weight="bold" fill="#333">2.0</text>
<text transform="translate(405.10 269.50) rotate(-90)" text-anchor="middle" font-size="3.0" font-weight="bold" fill="#333">2.5</text>
<text x="410.00" y="333.50" text-anchor="middle" font-size="3.0" font-weight="bold" fill="#333">0.0</text>
<text x="423.57" y="333.50" text-anchor="middle" font-size="3.0" font-weight="bold" fill="#333">0.1</text>
<text x="437.14" y="333.50" text-anchor="middle" font-size="3.0" font-weight="bold" fill="#333">0.2</text>
<text x="450.71" y="333.50" text-anchor="middle" font-size="3.0" font-weight="bold" fill="#333">0.3</text>
<text x="464.28" y="333.50" text-anchor="middle" font-size="3.0" font-weight="bold" fill="#333">0.4</text>
<text x="477.85" y="333.50" text-anchor="middle" font-size="3.0" font-weight="bold" fill="#333">0.5</text>
<text x="491.42" y="333.50" text-anchor="middle" font-size="3.0" font-weight="bold" fill="#333">0.6</text>
<text x="504.99" y="333.50" text-anchor="middle" font-size="3.0" font-weight="bold" fill="#333">0.7</text>
<text x="518.56" y="333.50" text-anchor="middle" font-size="3.0" font-weight="bold" fill="#333">0.8</text>
<text x="532.13" y="333.50" text-anchor="middle" font-size="3.0" font-weight="bold" fill="#333">0.9</text>
<text x="545.70" y="333.50" text-anchor="middle" font-size="3.0" font-weight="bold" fill="#333">1.0</text>
<text x="478.00" y="338.40" text-anchor="middle" font-size="4.5" textLength="80" lengthAdjust="spacingAndGlyphs">Quantile/decile of the reference distribution</text>
<rect x="429.00" y="343.90" width="4.6" height="1.7" fill="#7a7a7a" stroke="#444" stroke-width="0.4"/>
<text x="437.00" y="345.90" font-size="3.6" textLength="51" lengthAdjust="spacingAndGlyphs">Decile-specific relative proportion</text>
<line x1="487.20" y1="344.80" x2="492.60" y2="344.80" stroke="#2e2e2e" stroke-width="0.5"/>
<text x="494.40" y="345.90" font-size="3.6" textLength="36.5" lengthAdjust="spacingAndGlyphs">95% confidence interval</text>
<line x1="429.00" y1="348.20" x2="433.60" y2="348.20" stroke="#222" stroke-width="0.8"/>
<text x="437.00" y="349.30" font-size="3.6" textLength="24" lengthAdjust="spacingAndGlyphs">Relative density</text>
<line x1="488.00" y1="348.20" x2="492.60" y2="348.20" stroke="#2e2e2e" stroke-width="0.5" stroke-dasharray="1.6 1.0"/>
<text x="494.40" y="349.30" font-size="3.6" textLength="36.5" lengthAdjust="spacingAndGlyphs">99% confidence interval</text>
</g>
<g>
<line x1="151.85" y1="370.50" x2="151.85" y2="432.60" stroke="#f2f2f2" stroke-width="0.5"/>
<line x1="16.35" y1="421.85" x2="151.85" y2="421.85" stroke="#f5f5f5" stroke-width="0.5"/>
<line x1="16.35" y1="411.70" x2="151.85" y2="411.70" stroke="#f5f5f5" stroke-width="0.5"/>
<line x1="16.35" y1="401.55" x2="151.85" y2="401.55" stroke="#f5f5f5" stroke-width="0.5"/>
<line x1="16.35" y1="391.40" x2="151.85" y2="391.40" stroke="#f5f5f5" stroke-width="0.5"/>
<line x1="16.35" y1="381.25" x2="151.85" y2="381.25" stroke="#f5f5f5" stroke-width="0.5"/>
<line x1="29.90" y1="370.50" x2="29.90" y2="432.60" stroke="#f7f7f7" stroke-width="0.5"/>
<line x1="43.45" y1="370.50" x2="43.45" y2="432.60" stroke="#f7f7f7" stroke-width="0.5"/>
<line x1="57.00" y1="370.50" x2="57.00" y2="432.60" stroke="#f7f7f7" stroke-width="0.5"/>
<line x1="70.55" y1="370.50" x2="70.55" y2="432.60" stroke="#f7f7f7" stroke-width="0.5"/>
<line x1="84.10" y1="370.50" x2="84.10" y2="432.60" stroke="#f7f7f7" stroke-width="0.5"/>
<line x1="97.65" y1="370.50" x2="97.65" y2="432.60" stroke="#f7f7f7" stroke-width="0.5"/>
<line x1="111.20" y1="370.50" x2="111.20" y2="432.60" stroke="#f7f7f7" stroke-width="0.5"/>
<line x1="124.75" y1="370.50" x2="124.75" y2="432.60" stroke="#f7f7f7" stroke-width="0.5"/>
<line x1="138.30" y1="370.50" x2="138.30" y2="432.60" stroke="#f7f7f7" stroke-width="0.5"/>
<line x1="12.85" y1="412.00" x2="151.85" y2="412.00" stroke="#b9b9b9" stroke-width="0.6"/>
<rect x="16.35" y="425.30" width="13.55" height="7.30" fill="#c4c4c4"/>
<rect x="29.90" y="423.30" width="13.55" height="9.30" fill="#c4c4c4"/>
<rect x="43.45" y="421.30" width="13.55" height="11.30" fill="#c4c4c4"/>
<rect x="57.00" y="418.30" width="13.55" height="14.30" fill="#c4c4c4"/>
<rect x="70.55" y="417.70" width="13.55" height="14.90" fill="#c4c4c4"/>
<rect x="84.10" y="415.70" width="13.55" height="16.90" fill="#c4c4c4"/>
<rect x="97.65" y="415.20" width="13.55" height="17.40" fill="#c4c4c4"/>
<rect x="111.20" y="412.60" width="13.55" height="20.00" fill="#c4c4c4"/>
<rect x="124.75" y="402.40" width="13.55" height="30.20" fill="#c4c4c4"/>
<rect x="138.30" y="381.80" width="13.55" height="50.80" fill="#c4c4c4"/>
<path d="M16.35 425.30H29.90M29.90 423.30H43.45M43.45 421.30H57.00M57.00 418.30H70.55M70.55 417.70H84.10M84.10 415.70H97.65M97.65 415.20H111.20M111.20 412.60H124.75M124.75 402.40H138.30M138.30 381.80H151.85" stroke="#666" stroke-width="0.6" fill="none"/>
<path d="M16.35 425.30V432.60M151.85 381.80V432.60" stroke="#8e8e8e" stroke-width="0.5" fill="none"/>
<line x1="16.35" y1="432.60" x2="151.85" y2="432.60" stroke="#9a9a9a" stroke-width="0.5"/>
<line x1="16.35" y1="434.00" x2="151.85" y2="434.00" stroke="#e2e2e2" stroke-width="0.6"/>
<path d="M29.90 425.30V432.60M43.45 423.30V432.60M57.00 421.30V432.60M70.55 418.30V432.60M84.10 417.70V432.60M97.65 415.70V432.60M111.20 415.20V432.60M124.75 412.60V432.60M138.30 402.40V432.60" stroke="#3a3a3a" stroke-width="0.90" fill="none"/>
<path d="M29.90 423.30V425.30M43.45 421.30V423.30M57.00 418.30V421.30M70.55 417.70V418.30M84.10 415.70V417.70M97.65 415.20V415.70M111.20 412.60V415.20M124.75 402.40V412.60M138.30 381.80V402.40" stroke="#858585" stroke-width="0.55" fill="none"/>
<clipPath id="cp0_432"><rect x="15.85" y="366.50" width="137.00" height="66.10"/></clipPath>
<g clip-path="url(#cp0_432)" fill="none" stroke-linecap="round">
<path d="M16.35 422.74 C18.61 422.61 25.38 422.62 29.90 421.99 C34.42 421.35 38.93 419.88 43.45 418.93 C47.97 417.98 52.48 416.93 57.00 416.27 C61.52 415.62 66.03 415.45 70.55 415.02 C75.07 414.58 79.58 414.02 84.10 413.66 C88.62 413.31 93.13 413.55 97.65 412.91 C102.17 412.28 106.68 411.21 111.20 409.86 C115.72 408.50 121.36 406.76 124.75 404.80 C128.14 402.84 129.27 401.01 131.53 398.11 C133.78 395.22 136.49 390.28 138.30 387.43 C140.11 384.57 141.01 382.78 142.37 381.01 C143.72 379.24 144.85 377.86 146.43 376.80 C148.01 375.74 150.95 375.01 151.85 374.65" stroke="#3d3d3d" stroke-width="0.5" stroke-dasharray="2.2 1.5"/>
<path d="M16.35 425.94 C18.61 425.83 25.38 425.89 29.90 425.29 C34.42 424.68 38.93 423.25 43.45 422.33 C47.97 421.41 52.48 420.39 57.00 419.77 C61.52 419.16 66.03 419.02 70.55 418.62 C75.07 418.22 79.58 417.68 84.10 417.37 C88.62 417.05 93.13 417.31 97.65 416.71 C102.17 416.11 106.68 415.07 111.20 413.75 C115.72 412.44 121.36 410.53 124.75 408.80 C128.14 407.07 129.27 405.84 131.53 403.36 C133.78 400.88 136.49 396.44 138.30 393.93 C140.11 391.41 141.01 389.78 142.37 388.26 C143.72 386.74 144.85 385.57 146.43 384.80 C148.01 384.03 150.95 383.84 151.85 383.65" stroke="#3d3d3d" stroke-width="0.5" stroke-dasharray="2.2 1.5"/>
<path d="M16.35 423.62 C18.61 423.50 25.38 423.52 29.90 422.89 C34.42 422.27 38.93 420.81 43.45 419.87 C47.97 418.92 52.48 417.88 57.00 417.24 C61.52 416.60 66.03 416.44 70.55 416.01 C75.07 415.58 79.58 415.02 84.10 414.68 C88.62 414.34 93.13 414.58 97.65 413.95 C102.17 413.33 106.68 412.27 111.20 410.93 C115.72 409.59 121.36 407.80 124.75 405.90 C128.14 404.00 129.27 402.34 131.53 399.56 C133.78 396.77 136.49 391.97 138.30 389.21 C140.11 386.45 141.01 384.71 142.37 383.01 C143.72 381.30 144.85 379.98 146.43 379.00 C148.01 378.02 150.95 377.44 151.85 377.12" stroke="#8a8a8a" stroke-width="0.28"/>
<path d="M16.35 425.38 C18.61 425.27 25.38 425.32 29.90 424.71 C34.42 424.10 38.93 422.66 43.45 421.74 C47.97 420.81 52.48 419.79 57.00 419.16 C61.52 418.54 66.03 418.40 70.55 417.99 C75.07 417.58 79.58 417.04 84.10 416.72 C88.62 416.39 93.13 416.65 97.65 416.05 C102.17 415.44 106.68 414.40 111.20 413.07 C115.72 411.75 121.36 409.87 124.75 408.10 C128.14 406.33 129.27 405.00 131.53 402.44 C133.78 399.89 136.49 395.36 138.30 392.79 C140.11 390.21 141.01 388.56 142.37 386.99 C143.72 385.43 144.85 384.22 146.43 383.40 C148.01 382.58 150.95 382.30 151.85 382.08" stroke="#8a8a8a" stroke-width="0.28"/>
<path d="M16.35 424.50 C18.61 424.38 25.38 424.42 29.90 423.80 C34.42 423.18 38.93 421.73 43.45 420.80 C47.97 419.87 52.48 418.83 57.00 418.20 C61.52 417.57 66.03 417.42 70.55 417.00 C75.07 416.58 79.58 416.03 84.10 415.70 C88.62 415.37 93.13 415.62 97.65 415.00 C102.17 414.38 106.68 413.33 111.20 412.00 C115.72 410.67 121.36 408.83 124.75 407.00 C128.14 405.17 129.27 403.67 131.53 401.00 C133.78 398.33 136.49 393.67 138.30 391.00 C140.11 388.33 141.01 386.63 142.37 385.00 C143.72 383.37 144.85 382.10 146.43 381.20 C148.01 380.30 150.95 379.87 151.85 379.60" stroke="#333" stroke-width="0.65"/>
</g>
<path d="M23.12 423.50V427.10M22.02 423.50h2.2M22.02 427.10h2.2M36.68 421.50V425.10M35.58 421.50h2.2M35.58 425.10h2.2M50.23 419.50V423.10M49.12 419.50h2.2M49.12 423.10h2.2M63.78 416.50V420.10M62.68 416.50h2.2M62.68 420.10h2.2M77.33 415.90V419.50M76.23 415.90h2.2M76.23 419.50h2.2M90.88 413.90V417.50M89.78 413.90h2.2M89.78 417.50h2.2M104.43 413.40V417.00M103.33 413.40h2.2M103.33 417.00h2.2M117.97 410.80V414.40M116.88 410.80h2.2M116.88 414.40h2.2M131.53 400.60V404.20M130.43 400.60h2.2M130.43 404.20h2.2M145.07 380.00V383.60M143.97 380.00h2.2M143.97 383.60h2.2" stroke="#3a3a3a" stroke-width="0.4" fill="none"/>
<text transform="translate(6.85 403.00) rotate(-90)" text-anchor="middle" font-size="4.5" textLength="51.0" lengthAdjust="spacingAndGlyphs">Relative density/proportion</text>
<text transform="translate(11.45 432.00) rotate(-90)" text-anchor="middle" font-size="3.0" font-weight="bold" fill="#333">0.0</text>
<text transform="translate(11.45 421.85) rotate(-90)" text-anchor="middle" font-size="3.0" font-weight="bold" fill="#333">0.5</text>
<text transform="translate(11.45 411.70) rotate(-90)" text-anchor="middle" font-size="3.0" font-weight="bold" fill="#333">1.0</text>
<text transform="translate(11.45 401.55) rotate(-90)" text-anchor="middle" font-size="3.0" font-weight="bold" fill="#333">1.5</text>
<text transform="translate(11.45 391.40) rotate(-90)" text-anchor="middle" font-size="3.0" font-weight="bold" fill="#333">2.0</text>
<text transform="translate(11.45 381.25) rotate(-90)" text-anchor="middle" font-size="3.0" font-weight="bold" fill="#333">2.5</text>
<text x="16.35" y="438.30" text-anchor="middle" font-size="3.0" font-weight="bold" fill="#333">0.0</text>
<text x="29.90" y="438.30" text-anchor="middle" font-size="3.0" font-weight="bold" fill="#333">0.1</text>
<text x="43.45" y="438.30" text-anchor="middle" font-size="3.0" font-weight="bold" fill="#333">0.2</text>
<text x="57.00" y="438.30" text-anchor="middle" font-size="3.0" font-weight="bold" fill="#333">0.3</text>
<text x="70.55" y="438.30" text-anchor="middle" font-size="3.0" font-weight="bold" fill="#333">0.4</text>
<text x="84.10" y="438.30" text-anchor="middle" font-size="3.0" font-weight="bold" fill="#333">0.5</text>
<text x="97.65" y="438.30" text-anchor="middle" font-size="3.0" font-weight="bold" fill="#333">0.6</text>
<text x="111.20" y="438.30" text-anchor="middle" font-size="3.0" font-weight="bold" fill="#333">0.7</text>
<text x="124.75" y="438.30" text-anchor="middle" font-size="3.0" font-weight="bold" fill="#333">0.8</text>
<text x="138.30" y="438.30" text-anchor="middle" font-size="3.0" font-weight="bold" fill="#333">0.9</text>
<text x="151.85" y="438.30" text-anchor="middle" font-size="3.0" font-weight="bold" fill="#333">1.0</text>
<text x="84.35" y="443.20" text-anchor="middle" font-size="4.5" textLength="80" lengthAdjust="spacingAndGlyphs">Quantile/decile of the reference distribution</text>
<rect x="35.35" y="448.70" width="4.6" height="1.7" fill="#7a7a7a" stroke="#444" stroke-width="0.4"/>
<text x="43.35" y="450.70" font-size="3.6" textLength="51" lengthAdjust="spacingAndGlyphs">Decile-specific relative proportion</text>
<line x1="93.55" y1="449.60" x2="98.95" y2="449.60" stroke="#2e2e2e" stroke-width="0.5"/>
<text x="100.75" y="450.70" font-size="3.6" textLength="36.5" lengthAdjust="spacingAndGlyphs">95% confidence interval</text>
<line x1="35.35" y1="453.00" x2="39.95" y2="453.00" stroke="#222" stroke-width="0.8"/>
<text x="43.35" y="454.10" font-size="3.6" textLength="24" lengthAdjust="spacingAndGlyphs">Relative density</text>
<line x1="94.35" y1="453.00" x2="98.95" y2="453.00" stroke="#2e2e2e" stroke-width="0.5" stroke-dasharray="1.6 1.0"/>
<text x="100.75" y="454.10" font-size="3.6" textLength="36.5" lengthAdjust="spacingAndGlyphs">99% confidence interval</text>
</g>
<g>
<line x1="348.85" y1="370.50" x2="348.85" y2="432.60" stroke="#f2f2f2" stroke-width="0.5"/>
<line x1="213.35" y1="421.15" x2="348.85" y2="421.15" stroke="#f5f5f5" stroke-width="0.5"/>
<line x1="213.35" y1="409.50" x2="348.85" y2="409.50" stroke="#f5f5f5" stroke-width="0.5"/>
<line x1="213.35" y1="397.85" x2="348.85" y2="397.85" stroke="#f5f5f5" stroke-width="0.5"/>
<line x1="213.35" y1="386.20" x2="348.85" y2="386.20" stroke="#f5f5f5" stroke-width="0.5"/>
<line x1="213.35" y1="374.55" x2="348.85" y2="374.55" stroke="#f5f5f5" stroke-width="0.5"/>
<line x1="226.90" y1="370.50" x2="226.90" y2="432.60" stroke="#f7f7f7" stroke-width="0.5"/>
<line x1="240.45" y1="370.50" x2="240.45" y2="432.60" stroke="#f7f7f7" stroke-width="0.5"/>
<line x1="254.00" y1="370.50" x2="254.00" y2="432.60" stroke="#f7f7f7" stroke-width="0.5"/>
<line x1="267.55" y1="370.50" x2="267.55" y2="432.60" stroke="#f7f7f7" stroke-width="0.5"/>
<line x1="281.10" y1="370.50" x2="281.10" y2="432.60" stroke="#f7f7f7" stroke-width="0.5"/>
<line x1="294.65" y1="370.50" x2="294.65" y2="432.60" stroke="#f7f7f7" stroke-width="0.5"/>
<line x1="308.20" y1="370.50" x2="308.20" y2="432.60" stroke="#f7f7f7" stroke-width="0.5"/>
<line x1="321.75" y1="370.50" x2="321.75" y2="432.60" stroke="#f7f7f7" stroke-width="0.5"/>
<line x1="335.30" y1="370.50" x2="335.30" y2="432.60" stroke="#f7f7f7" stroke-width="0.5"/>
<line x1="209.85" y1="409.50" x2="348.85" y2="409.50" stroke="#b9b9b9" stroke-width="0.6"/>
<rect x="213.35" y="430.00" width="13.55" height="2.60" fill="#c4c4c4"/>
<rect x="226.90" y="429.00" width="13.55" height="3.60" fill="#c4c4c4"/>
<rect x="240.45" y="423.30" width="13.55" height="9.30" fill="#c4c4c4"/>
<rect x="254.00" y="415.70" width="13.55" height="16.90" fill="#c4c4c4"/>
<rect x="267.55" y="413.20" width="13.55" height="19.40" fill="#c4c4c4"/>
<rect x="281.10" y="410.70" width="13.55" height="21.90" fill="#c4c4c4"/>
<rect x="294.65" y="407.70" width="13.55" height="24.90" fill="#c4c4c4"/>
<rect x="308.20" y="406.00" width="13.55" height="26.60" fill="#c4c4c4"/>
<rect x="321.75" y="389.40" width="13.55" height="43.20" fill="#c4c4c4"/>
<rect x="335.30" y="387.60" width="13.55" height="45.00" fill="#c4c4c4"/>
<path d="M213.35 430.00H226.90M226.90 429.00H240.45M240.45 423.30H254.00M254.00 415.70H267.55M267.55 413.20H281.10M281.10 410.70H294.65M294.65 407.70H308.20M308.20 406.00H321.75M321.75 389.40H335.30M335.30 387.60H348.85" stroke="#666" stroke-width="0.6" fill="none"/>
<path d="M213.35 430.00V432.60M348.85 387.60V432.60" stroke="#8e8e8e" stroke-width="0.5" fill="none"/>
<line x1="213.35" y1="432.60" x2="348.85" y2="432.60" stroke="#9a9a9a" stroke-width="0.5"/>
<line x1="213.35" y1="434.00" x2="348.85" y2="434.00" stroke="#e2e2e2" stroke-width="0.6"/>
<path d="M226.90 430.00V432.60M240.45 429.00V432.60M254.00 423.30V432.60M267.55 415.70V432.60M281.10 413.20V432.60M294.65 410.70V432.60M308.20 407.70V432.60M321.75 406.00V432.60M335.30 389.40V432.60" stroke="#3a3a3a" stroke-width="0.90" fill="none"/>
<path d="M226.90 429.00V430.00M240.45 423.30V429.00M254.00 415.70V423.30M267.55 413.20V415.70M281.10 410.70V413.20M294.65 407.70V410.70M308.20 406.00V407.70M321.75 389.40V406.00M335.30 387.60V389.40" stroke="#858585" stroke-width="0.55" fill="none"/>
<clipPath id="cp1_432"><rect x="212.85" y="366.50" width="137.00" height="66.10"/></clipPath>
<g clip-path="url(#cp1_432)" fill="none" stroke-linecap="round">
<path d="M213.35 429.70 C215.61 429.49 222.38 429.33 226.90 428.46 C231.42 427.59 237.06 425.93 240.45 424.47 C243.84 423.01 244.97 421.50 247.22 419.70 C249.48 417.90 251.74 415.25 254.00 413.67 C256.26 412.09 258.52 411.12 260.77 410.24 C263.03 409.36 265.29 409.19 267.55 408.41 C269.81 407.64 272.07 406.14 274.32 405.58 C276.58 405.02 278.84 404.86 281.10 405.05 C283.36 405.24 285.62 406.67 287.88 406.72 C290.13 406.78 291.26 406.36 294.65 405.39 C298.04 404.43 304.81 402.43 308.20 400.94 C311.59 399.44 312.72 398.50 314.98 396.41 C317.23 394.31 319.49 390.55 321.75 388.38 C324.01 386.20 326.27 384.69 328.52 383.35 C330.78 382.00 333.49 380.96 335.30 380.32 C337.11 379.68 338.01 379.26 339.37 379.50 C340.72 379.75 341.85 380.32 343.43 381.78 C345.01 383.24 347.95 387.18 348.85 388.26" stroke="#3d3d3d" stroke-width="0.5" stroke-dasharray="2.2 1.5"/>
<path d="M213.35 431.70 C215.61 431.63 222.38 431.70 226.90 431.26 C231.42 430.82 237.06 430.00 240.45 429.07 C243.84 428.14 244.97 427.26 247.22 425.70 C249.48 424.14 251.74 421.28 254.00 419.72 C256.26 418.17 258.52 417.21 260.77 416.35 C263.03 415.49 265.29 415.33 267.55 414.57 C269.81 413.81 272.07 412.34 274.32 411.80 C276.58 411.25 278.84 411.11 281.10 411.32 C283.36 411.53 285.62 412.97 287.88 413.04 C290.13 413.12 291.26 412.71 294.65 411.77 C298.04 410.83 304.81 408.89 308.20 407.42 C311.59 405.94 312.72 405.02 314.98 402.94 C317.23 400.86 319.49 397.12 321.75 394.96 C324.01 392.81 326.27 391.31 328.52 389.99 C330.78 388.66 333.49 387.64 335.30 387.01 C337.11 386.39 338.01 385.97 339.37 386.23 C340.72 386.48 341.85 387.07 343.43 388.54 C345.01 390.01 347.95 393.97 348.85 395.06" stroke="#3d3d3d" stroke-width="0.5" stroke-dasharray="2.2 1.5"/>
<path d="M213.35 430.25 C215.61 430.08 222.38 429.98 226.90 429.23 C231.42 428.48 237.06 427.05 240.45 425.74 C243.84 424.42 244.97 423.08 247.22 421.35 C249.48 419.62 251.74 416.91 254.00 415.34 C256.26 413.76 258.52 412.79 260.77 411.92 C263.03 411.05 265.29 410.88 267.55 410.11 C269.81 409.33 272.07 407.85 274.32 407.29 C276.58 406.74 278.84 406.58 281.10 406.78 C283.36 406.97 285.62 408.40 287.88 408.46 C290.13 408.52 291.26 408.10 294.65 407.15 C298.04 406.19 304.81 404.21 308.20 402.72 C311.59 401.23 312.72 400.29 314.98 398.20 C317.23 396.12 319.49 392.36 321.75 390.19 C324.01 388.02 326.27 386.51 328.52 385.17 C330.78 383.84 333.49 382.80 335.30 382.16 C337.11 381.52 338.01 381.10 339.37 381.35 C340.72 381.60 341.85 382.18 343.43 383.64 C345.01 385.10 347.95 389.05 348.85 390.13" stroke="#8a8a8a" stroke-width="0.28"/>
<path d="M213.35 431.35 C215.61 431.25 222.38 431.28 226.90 430.77 C231.42 430.26 237.06 429.28 240.45 428.26 C243.84 427.25 244.97 426.25 247.22 424.65 C249.48 423.05 251.74 420.23 254.00 418.66 C256.26 417.10 258.52 416.14 260.77 415.28 C263.03 414.42 265.29 414.26 267.55 413.49 C269.81 412.73 272.07 411.25 274.32 410.71 C276.58 410.16 278.84 410.02 281.10 410.22 C283.36 410.43 285.62 411.87 287.88 411.94 C290.13 412.01 291.26 411.60 294.65 410.65 C298.04 409.71 304.81 407.76 308.20 406.28 C311.59 404.81 312.72 403.88 314.98 401.80 C317.23 399.72 319.49 395.97 321.75 393.81 C324.01 391.65 326.27 390.15 328.52 388.83 C330.78 387.50 333.49 386.47 335.30 385.84 C337.11 385.21 338.01 384.80 339.37 385.05 C340.72 385.30 341.85 385.89 343.43 387.36 C345.01 388.83 347.95 392.78 348.85 393.87" stroke="#8a8a8a" stroke-width="0.28"/>
<path d="M213.35 430.80 C215.61 430.67 222.38 430.63 226.90 430.00 C231.42 429.37 237.06 428.17 240.45 427.00 C243.84 425.83 244.97 424.67 247.22 423.00 C249.48 421.33 251.74 418.57 254.00 417.00 C256.26 415.43 258.52 414.47 260.77 413.60 C263.03 412.73 265.29 412.57 267.55 411.80 C269.81 411.03 272.07 409.55 274.32 409.00 C276.58 408.45 278.84 408.30 281.10 408.50 C283.36 408.70 285.62 410.13 287.88 410.20 C290.13 410.27 291.26 409.85 294.65 408.90 C298.04 407.95 304.81 405.98 308.20 404.50 C311.59 403.02 312.72 402.08 314.98 400.00 C317.23 397.92 319.49 394.17 321.75 392.00 C324.01 389.83 326.27 388.33 328.52 387.00 C330.78 385.67 333.49 384.63 335.30 384.00 C337.11 383.37 338.01 382.95 339.37 383.20 C340.72 383.45 341.85 384.03 343.43 385.50 C345.01 386.97 347.95 390.92 348.85 392.00" stroke="#333" stroke-width="0.65"/>
</g>
<path d="M220.12 427.20V432.80M219.03 427.20h2.2M219.03 432.80h2.2M233.68 426.20V431.80M232.58 426.20h2.2M232.58 431.80h2.2M247.22 420.50V426.10M246.12 420.50h2.2M246.12 426.10h2.2M260.77 412.90V418.50M259.67 412.90h2.2M259.67 418.50h2.2M274.32 410.40V416.00M273.22 410.40h2.2M273.22 416.00h2.2M287.88 407.90V413.50M286.77 407.90h2.2M286.77 413.50h2.2M301.43 404.90V410.50M300.32 404.90h2.2M300.32 410.50h2.2M314.98 403.20V408.80M313.88 403.20h2.2M313.88 408.80h2.2M328.52 386.60V392.20M327.42 386.60h2.2M327.42 392.20h2.2M342.07 384.80V390.40M340.97 384.80h2.2M340.97 390.40h2.2" stroke="#3a3a3a" stroke-width="0.4" fill="none"/>
<text transform="translate(203.85 403.30) rotate(-90)" text-anchor="middle" font-size="4.5" textLength="50.4" lengthAdjust="spacingAndGlyphs">Relative density/proportion</text>
<text transform="translate(208.45 432.80) rotate(-90)" text-anchor="middle" font-size="3.0" font-weight="bold" fill="#333">0.0</text>
<text transform="translate(208.45 421.15) rotate(-90)" text-anchor="middle" font-size="3.0" font-weight="bold" fill="#333">0.5</text>
<text transform="translate(208.45 409.50) rotate(-90)" text-anchor="middle" font-size="3.0" font-weight="bold" fill="#333">1.0</text>
<text transform="translate(208.45 397.85) rotate(-90)" text-anchor="middle" font-size="3.0" font-weight="bold" fill="#333">1.5</text>
<text transform="translate(208.45 386.20) rotate(-90)" text-anchor="middle" font-size="3.0" font-weight="bold" fill="#333">2.0</text>
<text transform="translate(208.45 374.55) rotate(-90)" text-anchor="middle" font-size="3.0" font-weight="bold" fill="#333">2.5</text>
<text x="213.35" y="438.30" text-anchor="middle" font-size="3.0" font-weight="bold" fill="#333">0.0</text>
<text x="226.90" y="438.30" text-anchor="middle" font-size="3.0" font-weight="bold" fill="#333">0.1</text>
<text x="240.45" y="438.30" text-anchor="middle" font-size="3.0" font-weight="bold" fill="#333">0.2</text>
<text x="254.00" y="438.30" text-anchor="middle" font-size="3.0" font-weight="bold" fill="#333">0.3</text>
<text x="267.55" y="438.30" text-anchor="middle" font-size="3.0" font-weight="bold" fill="#333">0.4</text>
<text x="281.10" y="438.30" text-anchor="middle" font-size="3.0" font-weight="bold" fill="#333">0.5</text>
<text x="294.65" y="438.30" text-anchor="middle" font-size="3.0" font-weight="bold" fill="#333">0.6</text>
<text x="308.20" y="438.30" text-anchor="middle" font-size="3.0" font-weight="bold" fill="#333">0.7</text>
<text x="321.75" y="438.30" text-anchor="middle" font-size="3.0" font-weight="bold" fill="#333">0.8</text>
<text x="335.30" y="438.30" text-anchor="middle" font-size="3.0" font-weight="bold" fill="#333">0.9</text>
<text x="348.85" y="438.30" text-anchor="middle" font-size="3.0" font-weight="bold" fill="#333">1.0</text>
<text x="281.35" y="443.20" text-anchor="middle" font-size="4.5" textLength="80" lengthAdjust="spacingAndGlyphs">Quantile/decile of the reference distribution</text>
<rect x="232.35" y="448.70" width="4.6" height="1.7" fill="#7a7a7a" stroke="#444" stroke-width="0.4"/>
<text x="240.35" y="450.70" font-size="3.6" textLength="51" lengthAdjust="spacingAndGlyphs">Decile-specific relative proportion</text>
<line x1="290.55" y1="449.60" x2="295.95" y2="449.60" stroke="#2e2e2e" stroke-width="0.5"/>
<text x="297.75" y="450.70" font-size="3.6" textLength="36.5" lengthAdjust="spacingAndGlyphs">95% confidence interval</text>
<line x1="232.35" y1="453.00" x2="236.95" y2="453.00" stroke="#222" stroke-width="0.8"/>
<text x="240.35" y="454.10" font-size="3.6" textLength="24" lengthAdjust="spacingAndGlyphs">Relative density</text>
<line x1="291.35" y1="453.00" x2="295.95" y2="453.00" stroke="#2e2e2e" stroke-width="0.5" stroke-dasharray="1.6 1.0"/>
<text x="297.75" y="454.10" font-size="3.6" textLength="36.5" lengthAdjust="spacingAndGlyphs">99% confidence interval</text>
</g>
<g>
<line x1="545.70" y1="370.50" x2="545.70" y2="432.60" stroke="#f2f2f2" stroke-width="0.5"/>
<line x1="410.00" y1="426.40" x2="545.70" y2="426.40" stroke="#f5f5f5" stroke-width="0.5"/>
<line x1="410.00" y1="413.60" x2="545.70" y2="413.60" stroke="#f5f5f5" stroke-width="0.5"/>
<line x1="410.00" y1="400.80" x2="545.70" y2="400.80" stroke="#f5f5f5" stroke-width="0.5"/>
<line x1="410.00" y1="388.00" x2="545.70" y2="388.00" stroke="#f5f5f5" stroke-width="0.5"/>
<line x1="423.57" y1="370.50" x2="423.57" y2="432.60" stroke="#f7f7f7" stroke-width="0.5"/>
<line x1="437.14" y1="370.50" x2="437.14" y2="432.60" stroke="#f7f7f7" stroke-width="0.5"/>
<line x1="450.71" y1="370.50" x2="450.71" y2="432.60" stroke="#f7f7f7" stroke-width="0.5"/>
<line x1="464.28" y1="370.50" x2="464.28" y2="432.60" stroke="#f7f7f7" stroke-width="0.5"/>
<line x1="477.85" y1="370.50" x2="477.85" y2="432.60" stroke="#f7f7f7" stroke-width="0.5"/>
<line x1="491.42" y1="370.50" x2="491.42" y2="432.60" stroke="#f7f7f7" stroke-width="0.5"/>
<line x1="504.99" y1="370.50" x2="504.99" y2="432.60" stroke="#f7f7f7" stroke-width="0.5"/>
<line x1="518.56" y1="370.50" x2="518.56" y2="432.60" stroke="#f7f7f7" stroke-width="0.5"/>
<line x1="532.13" y1="370.50" x2="532.13" y2="432.60" stroke="#f7f7f7" stroke-width="0.5"/>
<line x1="406.50" y1="419.50" x2="545.70" y2="419.50" stroke="#b9b9b9" stroke-width="0.6"/>
<rect x="410.00" y="405.70" width="13.57" height="26.90" fill="#c4c4c4"/>
<rect x="423.57" y="420.30" width="13.57" height="12.30" fill="#c4c4c4"/>
<rect x="437.14" y="422.00" width="13.57" height="10.60" fill="#c4c4c4"/>
<rect x="450.71" y="419.60" width="13.57" height="13.00" fill="#c4c4c4"/>
<rect x="464.28" y="421.00" width="13.57" height="11.60" fill="#c4c4c4"/>
<rect x="477.85" y="419.60" width="13.57" height="13.00" fill="#c4c4c4"/>
<rect x="491.42" y="421.40" width="13.57" height="11.20" fill="#c4c4c4"/>
<rect x="504.99" y="420.00" width="13.57" height="12.60" fill="#c4c4c4"/>
<rect x="518.56" y="416.00" width="13.57" height="16.60" fill="#c4c4c4"/>
<rect x="532.13" y="409.00" width="13.57" height="23.60" fill="#c4c4c4"/>
<path d="M410.00 405.70H423.57M423.57 420.30H437.14M437.14 422.00H450.71M450.71 419.60H464.28M464.28 421.00H477.85M477.85 419.60H491.42M491.42 421.40H504.99M504.99 420.00H518.56M518.56 416.00H532.13M532.13 409.00H545.70" stroke="#666" stroke-width="0.6" fill="none"/>
<path d="M410.00 405.70V432.60M545.70 409.00V432.60" stroke="#8e8e8e" stroke-width="0.5" fill="none"/>
<line x1="410.00" y1="432.60" x2="545.70" y2="432.60" stroke="#9a9a9a" stroke-width="0.5"/>
<line x1="410.00" y1="434.00" x2="545.70" y2="434.00" stroke="#e2e2e2" stroke-width="0.6"/>
<path d="M423.57 420.30V432.60M437.14 422.00V432.60M450.71 422.00V432.60M464.28 421.00V432.60M477.85 421.00V432.60M491.42 421.40V432.60M504.99 421.40V432.60M518.56 420.00V432.60M532.13 416.00V432.60" stroke="#3a3a3a" stroke-width="0.90" fill="none"/>
<path d="M423.57 405.70V420.30M437.14 420.30V422.00M450.71 419.60V422.00M464.28 419.60V421.00M477.85 419.60V421.00M491.42 419.60V421.40M504.99 420.00V421.40M518.56 416.00V420.00M532.13 409.00V416.00" stroke="#858585" stroke-width="0.55" fill="none"/>
<clipPath id="cp2_432"><rect x="409.50" y="366.50" width="137.20" height="66.10"/></clipPath>
<g clip-path="url(#cp2_432)" fill="none" stroke-linecap="round">
<path d="M410.00 374.20 C410.45 376.20 411.70 381.07 412.71 386.22 C413.73 391.37 414.98 400.67 416.11 405.12 C417.24 409.57 418.48 411.05 419.50 412.92 C420.52 414.79 421.31 415.58 422.21 416.36 C423.12 417.14 423.57 417.21 424.93 417.58 C426.28 417.94 428.32 418.44 430.36 418.57 C432.39 418.70 433.75 418.73 437.14 418.35 C440.53 417.98 446.19 416.42 450.71 416.32 C455.23 416.23 460.89 417.85 464.28 417.80 C467.67 417.74 468.80 416.12 471.06 415.98 C473.33 415.85 474.46 416.59 477.85 416.97 C481.24 417.35 486.90 418.04 491.42 418.24 C495.94 418.45 500.47 418.99 504.99 418.22 C509.51 417.44 514.04 415.30 518.56 413.59 C523.08 411.88 528.74 409.61 532.13 407.96 C535.52 406.31 536.65 405.25 538.91 403.70 C541.18 402.15 544.57 399.48 545.70 398.64" stroke="#3d3d3d" stroke-width="0.5" stroke-dasharray="2.2 1.5"/>
<path d="M410.00 390.20 C410.45 391.14 411.70 393.07 412.71 395.82 C413.73 398.57 414.98 403.39 416.11 406.72 C417.24 410.05 418.48 413.54 419.50 415.79 C420.52 418.05 421.31 419.22 422.21 420.25 C423.12 421.28 423.57 421.53 424.93 421.98 C426.28 422.44 428.32 422.85 430.36 422.99 C432.39 423.13 433.75 423.16 437.14 422.80 C440.53 422.44 446.19 420.90 450.71 420.82 C455.23 420.75 460.89 422.39 464.28 422.35 C467.67 422.30 468.80 420.69 471.06 420.56 C473.33 420.43 474.46 421.18 477.85 421.57 C481.24 421.96 486.90 422.67 491.42 422.89 C495.94 423.12 500.47 423.67 504.99 422.92 C509.51 422.16 514.04 420.03 518.56 418.34 C523.08 416.64 528.74 414.20 532.13 412.76 C535.52 411.32 536.65 410.85 538.91 409.70 C541.18 408.55 544.57 406.48 545.70 405.84" stroke="#3d3d3d" stroke-width="0.5" stroke-dasharray="2.2 1.5"/>
<path d="M410.00 378.60 C410.45 380.31 411.70 384.37 412.71 388.86 C413.73 393.35 414.98 401.42 416.11 405.56 C417.24 409.70 418.48 411.73 419.50 413.71 C420.52 415.69 421.31 416.58 422.21 417.43 C423.12 418.28 423.57 418.40 424.93 418.79 C426.28 419.18 428.32 419.65 430.36 419.78 C432.39 419.91 433.75 419.95 437.14 419.58 C440.53 419.21 446.19 417.65 450.71 417.56 C455.23 417.47 460.89 419.10 464.28 419.05 C467.67 419.00 468.80 417.38 471.06 417.24 C473.33 417.11 474.46 417.86 477.85 418.24 C481.24 418.61 486.90 419.31 491.42 419.52 C495.94 419.73 500.47 420.28 504.99 419.51 C509.51 418.74 514.04 416.60 518.56 414.89 C523.08 413.19 528.74 410.87 532.13 409.28 C535.52 407.69 536.65 406.79 538.91 405.35 C541.18 403.91 544.57 401.41 545.70 400.62" stroke="#8a8a8a" stroke-width="0.28"/>
<path d="M410.00 387.40 C410.45 388.52 411.70 390.97 412.71 394.14 C413.73 397.31 414.98 402.91 416.11 406.44 C417.24 409.97 418.48 413.10 419.50 415.29 C420.52 417.48 421.31 418.58 422.21 419.57 C423.12 420.56 423.57 420.77 424.93 421.21 C426.28 421.65 428.32 422.08 430.36 422.22 C432.39 422.35 433.75 422.39 437.14 422.02 C440.53 421.66 446.19 420.12 450.71 420.04 C455.23 419.96 460.89 421.60 464.28 421.55 C467.67 421.50 468.80 419.89 471.06 419.76 C473.33 419.63 474.46 420.38 477.85 420.76 C481.24 421.15 486.90 421.86 491.42 422.08 C495.94 422.30 500.47 422.85 504.99 422.09 C509.51 421.33 514.04 419.20 518.56 417.51 C523.08 415.81 528.74 413.40 532.13 411.92 C535.52 410.44 536.65 409.87 538.91 408.65 C541.18 407.43 544.57 405.26 545.70 404.58" stroke="#8a8a8a" stroke-width="0.28"/>
<path d="M410.00 383.00 C410.45 384.42 411.70 387.67 412.71 391.50 C413.73 395.33 414.98 402.17 416.11 406.00 C417.24 409.83 418.48 412.42 419.50 414.50 C420.52 416.58 421.31 417.58 422.21 418.50 C423.12 419.42 423.57 419.58 424.93 420.00 C426.28 420.42 428.32 420.87 430.36 421.00 C432.39 421.13 433.75 421.17 437.14 420.80 C440.53 420.43 446.19 418.88 450.71 418.80 C455.23 418.72 460.89 420.35 464.28 420.30 C467.67 420.25 468.80 418.63 471.06 418.50 C473.33 418.37 474.46 419.12 477.85 419.50 C481.24 419.88 486.90 420.58 491.42 420.80 C495.94 421.02 500.47 421.57 504.99 420.80 C509.51 420.03 514.04 417.90 518.56 416.20 C523.08 414.50 528.74 412.13 532.13 410.60 C535.52 409.07 536.65 408.33 538.91 407.00 C541.18 405.67 544.57 403.33 545.70 402.60" stroke="#333" stroke-width="0.65"/>
</g>
<path d="M416.79 403.70V407.70M415.69 403.70h2.2M415.69 407.70h2.2M430.36 418.30V422.30M429.25 418.30h2.2M429.25 422.30h2.2M443.93 420.00V424.00M442.82 420.00h2.2M442.82 424.00h2.2M457.50 417.60V421.60M456.39 417.60h2.2M456.39 421.60h2.2M471.06 419.00V423.00M469.96 419.00h2.2M469.96 423.00h2.2M484.63 417.60V421.60M483.53 417.60h2.2M483.53 421.60h2.2M498.20 419.40V423.40M497.10 419.40h2.2M497.10 423.40h2.2M511.77 418.00V422.00M510.67 418.00h2.2M510.67 422.00h2.2M525.35 414.00V418.00M524.25 414.00h2.2M524.25 418.00h2.2M538.91 407.00V411.00M537.81 407.00h2.2M537.81 411.00h2.2" stroke="#3a3a3a" stroke-width="0.4" fill="none"/>
<text transform="translate(400.50 402.90) rotate(-90)" text-anchor="middle" font-size="4.5" textLength="50.4" lengthAdjust="spacingAndGlyphs">Relative density/proportion</text>
<text transform="translate(405.10 432.80) rotate(-90)" text-anchor="middle" font-size="3.0" font-weight="bold" fill="#333">0.0</text>
<text transform="translate(405.10 426.40) rotate(-90)" text-anchor="middle" font-size="3.0" font-weight="bold" fill="#333">0.5</text>
<text transform="translate(405.10 420.00) rotate(-90)" text-anchor="middle" font-size="3.0" font-weight="bold" fill="#333">1.0</text>
<text transform="translate(405.10 413.60) rotate(-90)" text-anchor="middle" font-size="3.0" font-weight="bold" fill="#333">1.5</text>
<text transform="translate(405.10 407.20) rotate(-90)" text-anchor="middle" font-size="3.0" font-weight="bold" fill="#333">2.0</text>
<text transform="translate(405.10 400.80) rotate(-90)" text-anchor="middle" font-size="3.0" font-weight="bold" fill="#333">2.5</text>
<text transform="translate(405.10 394.40) rotate(-90)" text-anchor="middle" font-size="3.0" font-weight="bold" fill="#333">3.0</text>
<text transform="translate(405.10 388.00) rotate(-90)" text-anchor="middle" font-size="3.0" font-weight="bold" fill="#333">3.5</text>
<text x="410.00" y="438.30" text-anchor="middle" font-size="3.0" font-weight="bold" fill="#333">0.0</text>
<text x="423.57" y="438.30" text-anchor="middle" font-size="3.0" font-weight="bold" fill="#333">0.1</text>
<text x="437.14" y="438.30" text-anchor="middle" font-size="3.0" font-weight="bold" fill="#333">0.2</text>
<text x="450.71" y="438.30" text-anchor="middle" font-size="3.0" font-weight="bold" fill="#333">0.3</text>
<text x="464.28" y="438.30" text-anchor="middle" font-size="3.0" font-weight="bold" fill="#333">0.4</text>
<text x="477.85" y="438.30" text-anchor="middle" font-size="3.0" font-weight="bold" fill="#333">0.5</text>
<text x="491.42" y="438.30" text-anchor="middle" font-size="3.0" font-weight="bold" fill="#333">0.6</text>
<text x="504.99" y="438.30" text-anchor="middle" font-size="3.0" font-weight="bold" fill="#333">0.7</text>
<text x="518.56" y="438.30" text-anchor="middle" font-size="3.0" font-weight="bold" fill="#333">0.8</text>
<text x="532.13" y="438.30" text-anchor="middle" font-size="3.0" font-weight="bold" fill="#333">0.9</text>
<text x="545.70" y="438.30" text-anchor="middle" font-size="3.0" font-weight="bold" fill="#333">1.0</text>
<text x="478.00" y="443.20" text-anchor="middle" font-size="4.5" textLength="80" lengthAdjust="spacingAndGlyphs">Quantile/decile of the reference distribution</text>
<rect x="429.00" y="448.70" width="4.6" height="1.7" fill="#7a7a7a" stroke="#444" stroke-width="0.4"/>
<text x="437.00" y="450.70" font-size="3.6" textLength="51" lengthAdjust="spacingAndGlyphs">Decile-specific relative proportion</text>
<line x1="487.20" y1="449.60" x2="492.60" y2="449.60" stroke="#2e2e2e" stroke-width="0.5"/>
<text x="494.40" y="450.70" font-size="3.6" textLength="36.5" lengthAdjust="spacingAndGlyphs">95% confidence interval</text>
<line x1="429.00" y1="453.00" x2="433.60" y2="453.00" stroke="#222" stroke-width="0.8"/>
<text x="437.00" y="454.10" font-size="3.6" textLength="24" lengthAdjust="spacingAndGlyphs">Relative density</text>
<line x1="488.00" y1="453.00" x2="492.60" y2="453.00" stroke="#2e2e2e" stroke-width="0.5" stroke-dasharray="1.6 1.0"/>
<text x="494.40" y="454.10" font-size="3.6" textLength="36.5" lengthAdjust="spacingAndGlyphs">99% confidence interval</text>
</g>
</g></svg></body></html>
